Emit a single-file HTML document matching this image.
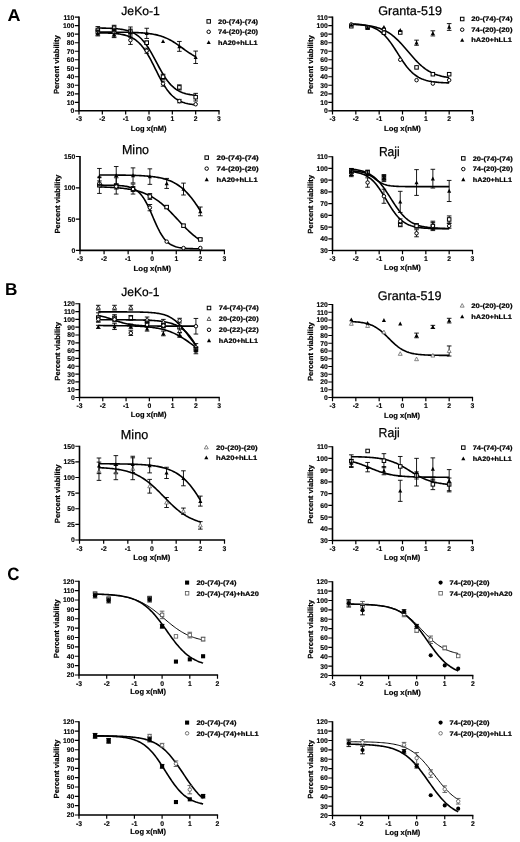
<!DOCTYPE html>
<html><head><meta charset="utf-8"><style>
html,body{margin:0;padding:0;background:#fff;}
svg{display:block;filter:blur(0.3px);}
text{font-family:"Liberation Sans", sans-serif;fill:#000;text-rendering:geometricPrecision;}
.tk{font-size:6.8px;font-weight:bold;stroke:#000;stroke-width:0.12px;}
.lab{font-size:7.4px;font-weight:bold;stroke:#000;stroke-width:0.2px;}
.ttl{font-size:12.3px;stroke:#000;stroke-width:0.25px;}
.leg{font-size:6.5px;font-weight:bold;stroke:#000;stroke-width:0.22px;}
.pl{font-size:17.2px;font-weight:bold;}
</style></head><body>
<svg width="520" height="842" viewBox="0 0 520 842">
<rect width="520" height="842" fill="#fff"/>
<text x="7.4" y="20.7" class="pl" textLength="13.0" lengthAdjust="spacingAndGlyphs">A</text><text x="4.9" y="294.5" class="pl">B</text><text x="7.2" y="579.6" class="pl" style="font-size:17.8px" textLength="12.2" lengthAdjust="spacingAndGlyphs">C</text>
<g id="A1"><path d="M79,16.599999999999998V110.8H219.6" fill="none" stroke="#000" stroke-width="1.6"/><text x="74.40" y="113.25" text-anchor="end" class="tk">0</text><text x="74.40" y="104.74" text-anchor="end" class="tk">10</text><text x="74.40" y="96.23" text-anchor="end" class="tk">20</text><text x="74.40" y="87.72" text-anchor="end" class="tk">30</text><text x="74.40" y="79.21" text-anchor="end" class="tk">40</text><text x="74.40" y="70.70" text-anchor="end" class="tk">50</text><text x="74.40" y="62.20" text-anchor="end" class="tk">60</text><text x="74.40" y="53.69" text-anchor="end" class="tk">70</text><text x="74.40" y="45.18" text-anchor="end" class="tk">80</text><text x="74.40" y="36.67" text-anchor="end" class="tk">90</text><text x="74.40" y="28.16" text-anchor="end" class="tk">100</text><text x="74.40" y="19.65" text-anchor="end" class="tk">110</text><text x="79.00" y="121.30" text-anchor="middle" class="tk">-3</text><text x="102.33" y="121.30" text-anchor="middle" class="tk">-2</text><text x="125.67" y="121.30" text-anchor="middle" class="tk">-1</text><text x="149.00" y="121.30" text-anchor="middle" class="tk">0</text><text x="172.33" y="121.30" text-anchor="middle" class="tk">1</text><text x="195.67" y="121.30" text-anchor="middle" class="tk">2</text><text x="219.00" y="121.30" text-anchor="middle" class="tk">3</text><path d="M74.8,110.80H79M74.8,102.29H79M74.8,93.78H79M74.8,85.27H79M74.8,76.76H79M74.8,68.25H79M74.8,59.75H79M74.8,51.24H79M74.8,42.73H79M74.8,34.22H79M74.8,25.71H79M74.8,17.20H79M79.00,110.8V114.6M102.33,110.8V114.6M125.67,110.8V114.6M149.00,110.8V114.6M172.33,110.8V114.6M195.67,110.8V114.6M219.00,110.8V114.6" stroke="#000" stroke-width="1.2" fill="none"/><text x="130.85" y="130.60" textLength="35.70" lengthAdjust="spacingAndGlyphs" class="lab">Log x(nM)</text><text transform="translate(59.00,94.10) rotate(-90)" x="0" y="0" textLength="58.8" lengthAdjust="spacingAndGlyphs" class="lab">Percent viability</text><text x="121.30" y="14.60" textLength="38.50" lengthAdjust="spacingAndGlyphs" class="ttl" style="font-size:12.0px">JeKo-1</text><rect x="206.95" y="19.65" width="3.50" height="3.50" fill="#fff" stroke="#000" stroke-width="1.0"/><text x="218.00" y="23.60" textLength="40.10" lengthAdjust="spacingAndGlyphs" class="leg">20-(74)-(74)</text><circle cx="208.70" cy="31.80" r="1.75" fill="#fff" stroke="#000" stroke-width="1.0"/><text x="218.00" y="34.00" textLength="40.10" lengthAdjust="spacingAndGlyphs" class="leg">74-(20)-(20)</text><path d="M208.70,40.15L210.75,44.05L206.65,44.05Z" fill="#000"/><text x="218.00" y="44.50" textLength="39.70" lengthAdjust="spacingAndGlyphs" class="leg">hA20+hLL1</text><polyline points="97.81,28.03 98.89,28.04 99.98,28.05 101.07,28.07 102.16,28.09 103.24,28.11 104.33,28.14 105.42,28.16 106.51,28.19 107.59,28.23 108.68,28.27 109.77,28.31 110.85,28.36 111.94,28.42 113.03,28.48 114.12,28.55 115.20,28.63 116.29,28.72 117.38,28.82 118.47,28.93 119.55,29.06 120.64,29.20 121.73,29.37 122.82,29.55 123.90,29.75 124.99,29.98 126.08,30.23 127.16,30.51 128.25,30.83 129.34,31.19 130.43,31.58 131.51,32.02 132.60,32.51 133.69,33.06 134.78,33.66 135.86,34.32 136.95,35.06 138.04,35.87 139.13,36.75 140.21,37.72 141.30,38.78 142.39,39.92 143.47,41.16 144.56,42.49 145.65,43.92 146.74,45.44 147.82,47.06 148.91,48.76 150.00,50.55 151.09,52.40 152.17,54.33 153.26,56.30 154.35,58.32 155.44,60.36 156.52,62.41 157.61,64.47 158.70,66.50 159.78,68.50 160.87,70.46 161.96,72.36 163.05,74.19 164.13,75.95 165.22,77.62 166.31,79.20 167.40,80.69 168.48,82.08 169.57,83.38 170.66,84.59 171.75,85.70 172.83,86.72 173.92,87.66 175.01,88.52 176.09,89.30 177.18,90.01 178.27,90.65 179.36,91.23 180.44,91.76 181.53,92.23 182.62,92.65 183.71,93.03 184.79,93.37 185.88,93.68 186.97,93.95 188.06,94.20 189.14,94.41 190.23,94.61 191.32,94.78 192.40,94.93 193.49,95.07 194.58,95.19 195.67,95.30" fill="none" stroke="#000" stroke-width="1.6"/><polyline points="97.81,32.81 98.89,32.83 99.98,32.85 101.07,32.87 102.16,32.89 103.24,32.92 104.33,32.95 105.42,32.98 106.51,33.02 107.59,33.06 108.68,33.11 109.77,33.16 110.85,33.22 111.94,33.29 113.03,33.36 114.12,33.45 115.20,33.54 116.29,33.65 117.38,33.77 118.47,33.91 119.55,34.06 120.64,34.23 121.73,34.42 122.82,34.63 123.90,34.87 124.99,35.14 126.08,35.44 127.16,35.78 128.25,36.15 129.34,36.57 130.43,37.03 131.51,37.55 132.60,38.12 133.69,38.75 134.78,39.45 135.86,40.22 136.95,41.07 138.04,42.00 139.13,43.02 140.21,44.13 141.30,45.33 142.39,46.63 143.47,48.03 144.56,49.53 145.65,51.13 146.74,52.82 147.82,54.61 148.91,56.49 150.00,58.45 151.09,60.48 152.17,62.56 153.26,64.70 154.35,66.86 155.44,69.04 156.52,71.22 157.61,73.39 158.70,75.53 159.78,77.62 160.87,79.66 161.96,81.63 163.05,83.51 164.13,85.32 165.22,87.03 166.31,88.64 167.40,90.15 168.48,91.57 169.57,92.88 170.66,94.10 171.75,95.22 172.83,96.25 173.92,97.19 175.01,98.05 176.09,98.83 177.18,99.54 178.27,100.18 179.36,100.76 180.44,101.28 181.53,101.75 182.62,102.17 183.71,102.55 184.79,102.90 185.88,103.20 186.97,103.47 188.06,103.72 189.14,103.93 190.23,104.13 191.32,104.30 192.40,104.46 193.49,104.59 194.58,104.72 195.67,104.83" fill="none" stroke="#000" stroke-width="1.6"/><polyline points="97.81,32.11 98.89,32.11 99.98,32.11 101.07,32.11 102.16,32.11 103.24,32.12 104.33,32.12 105.42,32.12 106.51,32.12 107.59,32.13 108.68,32.13 109.77,32.13 110.85,32.14 111.94,32.14 113.03,32.15 114.12,32.16 115.20,32.16 116.29,32.17 117.38,32.18 118.47,32.19 119.55,32.20 120.64,32.21 121.73,32.22 122.82,32.23 123.90,32.25 124.99,32.26 126.08,32.28 127.16,32.30 128.25,32.32 129.34,32.35 130.43,32.37 131.51,32.40 132.60,32.44 133.69,32.47 134.78,32.51 135.86,32.55 136.95,32.60 138.04,32.65 139.13,32.71 140.21,32.77 141.30,32.84 142.39,32.92 143.47,33.00 144.56,33.09 145.65,33.19 146.74,33.30 147.82,33.42 148.91,33.55 150.00,33.70 151.09,33.85 152.17,34.02 153.26,34.21 154.35,34.42 155.44,34.64 156.52,34.88 157.61,35.14 158.70,35.42 159.78,35.73 160.87,36.06 161.96,36.42 163.05,36.80 164.13,37.21 165.22,37.65 166.31,38.12 167.40,38.61 168.48,39.14 169.57,39.70 170.66,40.28 171.75,40.90 172.83,41.54 173.92,42.21 175.01,42.91 176.09,43.62 177.18,44.36 178.27,45.11 179.36,45.88 180.44,46.66 181.53,47.44 182.62,48.23 183.71,49.01 184.79,49.80 185.88,50.57 186.97,51.33 188.06,52.08 189.14,52.80 190.23,53.51 191.32,54.19 192.40,54.85 193.49,55.48 194.58,56.08 195.67,56.66" fill="none" stroke="#000" stroke-width="1.6"/><path d="M97.81,26.56V33.37M95.51,26.56H100.11M95.51,33.37H100.11M114.12,25.28V30.39M111.82,25.28H116.42M111.82,30.39H116.42M130.43,29.11V34.22M128.13,29.11H132.73M128.13,34.22H132.73M146.74,41.03V44.43M144.44,41.03H149.04M144.44,44.43H149.04M163.05,74.21V79.32M160.75,74.21H165.35M160.75,79.32H165.35M179.36,84.85V89.95M177.06,84.85H181.66M177.06,89.95H181.66M195.67,93.36V101.01M193.37,93.36H197.97M193.37,101.01H197.97" stroke="#000" stroke-width="0.9" fill="none"/><rect x="96.06" y="28.21" width="3.50" height="3.50" fill="#fff" stroke="#000" stroke-width="1.0"/><rect x="112.37" y="26.09" width="3.50" height="3.50" fill="#fff" stroke="#000" stroke-width="1.0"/><rect x="128.68" y="29.92" width="3.50" height="3.50" fill="#fff" stroke="#000" stroke-width="1.0"/><rect x="144.99" y="40.98" width="3.50" height="3.50" fill="#fff" stroke="#000" stroke-width="1.0"/><rect x="161.30" y="75.01" width="3.50" height="3.50" fill="#fff" stroke="#000" stroke-width="1.0"/><rect x="177.61" y="85.65" width="3.50" height="3.50" fill="#fff" stroke="#000" stroke-width="1.0"/><rect x="193.92" y="95.44" width="3.50" height="3.50" fill="#fff" stroke="#000" stroke-width="1.0"/><path d="M97.81,29.96V35.07M95.51,29.96H100.11M95.51,35.07H100.11M114.12,28.26V36.77M111.82,28.26H116.42M111.82,36.77H116.42M130.43,35.92V44.43M128.13,35.92H132.73M128.13,44.43H132.73M146.74,48.17V53.28M144.44,48.17H149.04M144.44,53.28H149.04M163.05,81.10V86.21M160.75,81.10H165.35M160.75,86.21H165.35M179.36,99.40V102.80M177.06,99.40H181.66M177.06,102.80H181.66" stroke="#000" stroke-width="0.9" fill="none"/><circle cx="97.81" cy="32.52" r="1.75" fill="#fff" stroke="#000" stroke-width="1.0"/><circle cx="114.12" cy="32.52" r="1.75" fill="#fff" stroke="#000" stroke-width="1.0"/><circle cx="130.43" cy="40.17" r="1.75" fill="#fff" stroke="#000" stroke-width="1.0"/><circle cx="146.74" cy="50.73" r="1.75" fill="#fff" stroke="#000" stroke-width="1.0"/><circle cx="163.05" cy="83.66" r="1.75" fill="#fff" stroke="#000" stroke-width="1.0"/><circle cx="179.36" cy="101.10" r="1.75" fill="#fff" stroke="#000" stroke-width="1.0"/><circle cx="195.67" cy="104.25" r="1.75" fill="#fff" stroke="#000" stroke-width="1.0"/><path d="M97.81,30.81V35.92M95.51,30.81H100.11M95.51,35.92H100.11M114.12,30.81V37.62M111.82,30.81H116.42M111.82,37.62H116.42M130.43,26.99V37.20M128.13,26.99H132.73M128.13,37.20H132.73M146.74,28.26V38.47M144.44,28.26H149.04M144.44,38.47H149.04M179.36,41.45V51.32M177.06,41.45H181.66M177.06,51.32H181.66M195.67,51.07V63.49M193.37,51.07H197.97M193.37,63.49H197.97" stroke="#000" stroke-width="0.9" fill="none"/><path d="M97.81,31.22L99.86,35.12L95.76,35.12Z" fill="#000"/><path d="M114.12,32.07L116.17,35.97L112.07,35.97Z" fill="#000"/><path d="M130.43,29.94L132.48,33.84L128.38,33.84Z" fill="#000"/><path d="M146.74,31.22L148.79,35.12L144.69,35.12Z" fill="#000"/><path d="M163.05,39.22L165.10,43.12L161.00,43.12Z" fill="#000"/><path d="M179.36,44.24L181.41,48.14L177.31,48.14Z" fill="#000"/><path d="M195.67,55.13L197.72,59.03L193.62,59.03Z" fill="#000"/></g><g id="A2"><path d="M332.5,16.599999999999998V110.8H473.1" fill="none" stroke="#000" stroke-width="1.6"/><text x="327.90" y="113.25" text-anchor="end" class="tk">0</text><text x="327.90" y="104.74" text-anchor="end" class="tk">10</text><text x="327.90" y="96.23" text-anchor="end" class="tk">20</text><text x="327.90" y="87.72" text-anchor="end" class="tk">30</text><text x="327.90" y="79.21" text-anchor="end" class="tk">40</text><text x="327.90" y="70.70" text-anchor="end" class="tk">50</text><text x="327.90" y="62.20" text-anchor="end" class="tk">60</text><text x="327.90" y="53.69" text-anchor="end" class="tk">70</text><text x="327.90" y="45.18" text-anchor="end" class="tk">80</text><text x="327.90" y="36.67" text-anchor="end" class="tk">90</text><text x="327.90" y="28.16" text-anchor="end" class="tk">100</text><text x="327.90" y="19.65" text-anchor="end" class="tk">110</text><text x="332.50" y="121.30" text-anchor="middle" class="tk">-3</text><text x="355.83" y="121.30" text-anchor="middle" class="tk">-2</text><text x="379.17" y="121.30" text-anchor="middle" class="tk">-1</text><text x="402.50" y="121.30" text-anchor="middle" class="tk">0</text><text x="425.83" y="121.30" text-anchor="middle" class="tk">1</text><text x="449.17" y="121.30" text-anchor="middle" class="tk">2</text><text x="472.50" y="121.30" text-anchor="middle" class="tk">3</text><path d="M328.3,110.80H332.5M328.3,102.29H332.5M328.3,93.78H332.5M328.3,85.27H332.5M328.3,76.76H332.5M328.3,68.25H332.5M328.3,59.75H332.5M328.3,51.24H332.5M328.3,42.73H332.5M328.3,34.22H332.5M328.3,25.71H332.5M328.3,17.20H332.5M332.50,110.8V114.6M355.83,110.8V114.6M379.17,110.8V114.6M402.50,110.8V114.6M425.83,110.8V114.6M449.17,110.8V114.6M472.50,110.8V114.6" stroke="#000" stroke-width="1.2" fill="none"/><text x="384.10" y="130.60" textLength="36.80" lengthAdjust="spacingAndGlyphs" class="lab">Log x(nM)</text><text transform="translate(312.50,94.10) rotate(-90)" x="0" y="0" textLength="58.8" lengthAdjust="spacingAndGlyphs" class="lab">Percent viability</text><text x="378.30" y="15.00" textLength="63.60" lengthAdjust="spacingAndGlyphs" class="ttl" style="font-size:12.6px">Granta-519</text><rect x="460.45" y="17.25" width="3.50" height="3.50" fill="#fff" stroke="#000" stroke-width="1.0"/><text x="471.30" y="21.20" textLength="41.20" lengthAdjust="spacingAndGlyphs" class="leg">20-(74)-(74)</text><circle cx="462.20" cy="29.70" r="1.75" fill="#fff" stroke="#000" stroke-width="1.0"/><text x="471.30" y="31.90" textLength="41.20" lengthAdjust="spacingAndGlyphs" class="leg">74-(20)-(20)</text><path d="M462.20,37.95L464.25,41.85L460.15,41.85Z" fill="#000"/><text x="471.30" y="42.30" textLength="40.60" lengthAdjust="spacingAndGlyphs" class="leg">hA20+hLL1</text><polyline points="351.31,24.36 352.39,24.40 353.48,24.44 354.57,24.49 355.66,24.55 356.74,24.60 357.83,24.67 358.92,24.74 360.01,24.82 361.09,24.90 362.18,25.00 363.27,25.10 364.35,25.21 365.44,25.33 366.53,25.46 367.62,25.61 368.70,25.77 369.79,25.94 370.88,26.13 371.97,26.33 373.05,26.55 374.14,26.80 375.23,27.06 376.32,27.35 377.40,27.66 378.49,27.99 379.58,28.36 380.66,28.75 381.75,29.18 382.84,29.63 383.93,30.13 385.01,30.66 386.10,31.23 387.19,31.84 388.28,32.49 389.36,33.18 390.45,33.92 391.54,34.70 392.63,35.53 393.71,36.41 394.80,37.33 395.89,38.30 396.97,39.31 398.06,40.36 399.15,41.46 400.24,42.59 401.32,43.75 402.41,44.95 403.50,46.17 404.59,47.42 405.67,48.68 406.76,49.96 407.85,51.24 408.94,52.52 410.02,53.80 411.11,55.07 412.20,56.33 413.28,57.56 414.37,58.77 415.46,59.95 416.55,61.10 417.63,62.21 418.72,63.29 419.81,64.32 420.90,65.30 421.98,66.25 423.07,67.14 424.16,67.99 425.25,68.80 426.33,69.56 427.42,70.27 428.51,70.94 429.59,71.57 430.68,72.16 431.77,72.71 432.86,73.22 433.94,73.69 435.03,74.13 436.12,74.54 437.21,74.92 438.29,75.27 439.38,75.59 440.47,75.89 441.56,76.16 442.64,76.41 443.73,76.65 444.82,76.86 445.90,77.05 446.99,77.23 448.08,77.40 449.17,77.55" fill="none" stroke="#000" stroke-width="1.6"/><polyline points="351.31,23.88 352.39,23.93 353.48,23.99 354.57,24.06 355.66,24.13 356.74,24.21 357.83,24.31 358.92,24.41 360.01,24.53 361.09,24.65 362.18,24.80 363.27,24.96 364.35,25.14 365.44,25.34 366.53,25.56 367.62,25.81 368.70,26.09 369.79,26.39 370.88,26.74 371.97,27.11 373.05,27.53 374.14,27.99 375.23,28.50 376.32,29.06 377.40,29.67 378.49,30.34 379.58,31.08 380.66,31.88 381.75,32.75 382.84,33.69 383.93,34.71 385.01,35.80 386.10,36.96 387.19,38.21 388.28,39.52 389.36,40.91 390.45,42.37 391.54,43.89 392.63,45.47 393.71,47.09 394.80,48.75 395.89,50.45 396.97,52.16 398.06,53.88 399.15,55.59 400.24,57.29 401.32,58.97 402.41,60.61 403.50,62.20 404.59,63.74 405.67,65.22 406.76,66.63 407.85,67.97 408.94,69.24 410.02,70.43 411.11,71.54 412.20,72.58 413.28,73.55 414.37,74.44 415.46,75.26 416.55,76.02 417.63,76.71 418.72,77.34 419.81,77.92 420.90,78.44 421.98,78.92 423.07,79.35 424.16,79.74 425.25,80.09 426.33,80.41 427.42,80.69 428.51,80.95 429.59,81.18 430.68,81.39 431.77,81.58 432.86,81.74 433.94,81.89 435.03,82.03 436.12,82.15 437.21,82.25 438.29,82.35 439.38,82.43 440.47,82.51 441.56,82.58 442.64,82.64 443.73,82.69 444.82,82.74 445.90,82.79 446.99,82.83 448.08,82.86 449.17,82.89" fill="none" stroke="#000" stroke-width="1.6"/><rect x="349.56" y="24.47" width="3.50" height="3.50" fill="#fff" stroke="#000" stroke-width="1.0"/><rect x="365.87" y="25.92" width="3.50" height="3.50" fill="#fff" stroke="#000" stroke-width="1.0"/><rect x="382.18" y="30.94" width="3.50" height="3.50" fill="#fff" stroke="#000" stroke-width="1.0"/><rect x="398.49" y="30.77" width="3.50" height="3.50" fill="#fff" stroke="#000" stroke-width="1.0"/><rect x="414.80" y="65.65" width="3.50" height="3.50" fill="#fff" stroke="#000" stroke-width="1.0"/><rect x="431.11" y="72.46" width="3.50" height="3.50" fill="#fff" stroke="#000" stroke-width="1.0"/><rect x="447.42" y="72.46" width="3.50" height="3.50" fill="#fff" stroke="#000" stroke-width="1.0"/><circle cx="351.31" cy="24.43" r="1.75" fill="#fff" stroke="#000" stroke-width="1.0"/><circle cx="367.62" cy="27.41" r="1.75" fill="#fff" stroke="#000" stroke-width="1.0"/><circle cx="383.93" cy="29.11" r="1.75" fill="#fff" stroke="#000" stroke-width="1.0"/><circle cx="400.24" cy="59.75" r="1.75" fill="#fff" stroke="#000" stroke-width="1.0"/><circle cx="416.55" cy="80.17" r="1.75" fill="#fff" stroke="#000" stroke-width="1.0"/><circle cx="432.86" cy="83.57" r="1.75" fill="#fff" stroke="#000" stroke-width="1.0"/><circle cx="449.17" cy="80.17" r="1.75" fill="#fff" stroke="#000" stroke-width="1.0"/><path d="M416.55,40.17V45.28M414.25,40.17H418.85M414.25,45.28H418.85M432.86,30.81V35.92M430.56,30.81H435.16M430.56,35.92H435.16M449.17,23.58V30.39M446.87,23.58H451.47M446.87,30.39H451.47" stroke="#000" stroke-width="0.9" fill="none"/><path d="M351.31,22.71L353.36,26.61L349.26,26.61Z" fill="#000"/><path d="M367.62,25.26L369.67,29.16L365.57,29.16Z" fill="#000"/><path d="M383.93,24.92L385.98,28.82L381.88,28.82Z" fill="#000"/><path d="M400.24,28.07L402.29,31.97L398.19,31.97Z" fill="#000"/><path d="M416.55,40.58L418.60,44.48L414.50,44.48Z" fill="#000"/><path d="M432.86,31.22L434.91,35.12L430.81,35.12Z" fill="#000"/><path d="M449.17,24.84L451.22,28.74L447.12,28.74Z" fill="#000"/></g><g id="A3"><path d="M80,155.9V250.4H225.0" fill="none" stroke="#000" stroke-width="1.6"/><text x="75.40" y="252.85" text-anchor="end" class="tk">0</text><text x="75.40" y="221.55" text-anchor="end" class="tk">50</text><text x="75.40" y="190.25" text-anchor="end" class="tk">100</text><text x="75.40" y="158.95" text-anchor="end" class="tk">150</text><text x="80.00" y="260.90" text-anchor="middle" class="tk">-3</text><text x="104.07" y="260.90" text-anchor="middle" class="tk">-2</text><text x="128.13" y="260.90" text-anchor="middle" class="tk">-1</text><text x="152.20" y="260.90" text-anchor="middle" class="tk">0</text><text x="176.27" y="260.90" text-anchor="middle" class="tk">1</text><text x="200.33" y="260.90" text-anchor="middle" class="tk">2</text><text x="224.40" y="260.90" text-anchor="middle" class="tk">3</text><path d="M75.8,250.40H80M75.8,219.10H80M75.8,187.80H80M75.8,156.50H80M80.00,250.4V254.20000000000002M104.07,250.4V254.20000000000002M128.13,250.4V254.20000000000002M152.20,250.4V254.20000000000002M176.27,250.4V254.20000000000002M200.33,250.4V254.20000000000002M224.40,250.4V254.20000000000002" stroke="#000" stroke-width="1.2" fill="none"/><text x="133.55" y="270.50" textLength="37.50" lengthAdjust="spacingAndGlyphs" class="lab">Log x(nM)</text><text transform="translate(60.00,233.55) rotate(-90)" x="0" y="0" textLength="58.8" lengthAdjust="spacingAndGlyphs" class="lab">Percent viability</text><text x="121.95" y="154.40" textLength="27.10" lengthAdjust="spacingAndGlyphs" class="ttl" style="font-size:13.0px">Mino</text><rect x="204.95" y="155.85" width="3.50" height="3.50" fill="#fff" stroke="#000" stroke-width="1.0"/><text x="216.50" y="159.80" textLength="42.20" lengthAdjust="spacingAndGlyphs" class="leg">20-(74)-(74)</text><circle cx="206.70" cy="168.60" r="1.75" fill="#fff" stroke="#000" stroke-width="1.0"/><text x="216.50" y="170.80" textLength="42.20" lengthAdjust="spacingAndGlyphs" class="leg">74-(20)-(20)</text><path d="M206.70,177.35L208.75,181.25L204.65,181.25Z" fill="#000"/><text x="216.50" y="181.70" textLength="41.20" lengthAdjust="spacingAndGlyphs" class="leg">hA20+hLL1</text><polyline points="99.40,186.94 100.52,186.97 101.64,187.00 102.76,187.03 103.88,187.07 105.01,187.11 106.13,187.15 107.25,187.19 108.37,187.24 109.49,187.30 110.61,187.35 111.73,187.41 112.86,187.48 113.98,187.55 115.10,187.62 116.22,187.70 117.34,187.79 118.46,187.88 119.58,187.98 120.71,188.09 121.83,188.20 122.95,188.33 124.07,188.46 125.19,188.60 126.31,188.75 127.44,188.92 128.56,189.09 129.68,189.28 130.80,189.47 131.92,189.69 133.04,189.91 134.16,190.16 135.29,190.42 136.41,190.69 137.53,190.99 138.65,191.30 139.77,191.64 140.89,192.00 142.01,192.38 143.14,192.78 144.26,193.21 145.38,193.66 146.50,194.14 147.62,194.65 148.74,195.19 149.87,195.75 150.99,196.35 152.11,196.98 153.23,197.64 154.35,198.34 155.47,199.07 156.59,199.83 157.72,200.63 158.84,201.46 159.96,202.33 161.08,203.23 162.20,204.16 163.32,205.12 164.45,206.12 165.57,207.15 166.69,208.20 167.81,209.28 168.93,210.39 170.05,211.52 171.17,212.67 172.30,213.83 173.42,215.02 174.54,216.21 175.66,217.41 176.78,218.62 177.90,219.83 179.02,221.04 180.15,222.24 181.27,223.44 182.39,224.62 183.51,225.79 184.63,226.95 185.75,228.09 186.88,229.20 188.00,230.29 189.12,231.35 190.24,232.39 191.36,233.39 192.48,234.37 193.60,235.31 194.73,236.22 195.85,237.10 196.97,237.94 198.09,238.75 199.21,239.52 200.33,240.26" fill="none" stroke="#000" stroke-width="1.6"/><polyline points="99.40,185.15 100.52,185.16 101.64,185.16 102.76,185.17 103.88,185.18 105.01,185.18 106.13,185.19 107.25,185.21 108.37,185.22 109.49,185.24 110.61,185.26 111.73,185.28 112.86,185.31 113.98,185.34 115.10,185.38 116.22,185.42 117.34,185.47 118.46,185.54 119.58,185.61 120.71,185.69 121.83,185.79 122.95,185.91 124.07,186.05 125.19,186.21 126.31,186.40 127.44,186.62 128.56,186.88 129.68,187.18 130.80,187.54 131.92,187.95 133.04,188.43 134.16,188.98 135.29,189.62 136.41,190.35 137.53,191.19 138.65,192.16 139.77,193.25 140.89,194.49 142.01,195.87 143.14,197.42 144.26,199.13 145.38,201.00 146.50,203.04 147.62,205.23 148.74,207.55 149.87,209.99 150.99,212.52 152.11,215.10 153.23,217.71 154.35,220.32 155.47,222.88 156.59,225.36 157.72,227.74 158.84,229.99 159.96,232.09 161.08,234.04 162.20,235.82 163.32,237.44 164.45,238.90 165.57,240.20 166.69,241.36 167.81,242.38 168.93,243.28 170.05,244.06 171.17,244.74 172.30,245.33 173.42,245.84 174.54,246.28 175.66,246.66 176.78,246.98 177.90,247.26 179.02,247.50 180.15,247.70 181.27,247.87 182.39,248.02 183.51,248.15 184.63,248.26 185.75,248.35 186.88,248.43 188.00,248.49 189.12,248.55 190.24,248.60 191.36,248.64 192.48,248.67 193.60,248.70 194.73,248.73 195.85,248.75 196.97,248.77 198.09,248.78 199.21,248.79 200.33,248.80" fill="none" stroke="#000" stroke-width="1.6"/><polyline points="99.40,174.98 100.52,174.98 101.64,174.99 102.76,174.99 103.88,174.99 105.01,175.00 106.13,175.00 107.25,175.01 108.37,175.01 109.49,175.02 110.61,175.02 111.73,175.03 112.86,175.04 113.98,175.04 115.10,175.05 116.22,175.06 117.34,175.07 118.46,175.08 119.58,175.09 120.71,175.11 121.83,175.12 122.95,175.14 124.07,175.15 125.19,175.17 126.31,175.19 127.44,175.21 128.56,175.23 129.68,175.26 130.80,175.28 131.92,175.31 133.04,175.35 134.16,175.38 135.29,175.42 136.41,175.46 137.53,175.50 138.65,175.55 139.77,175.60 140.89,175.66 142.01,175.72 143.14,175.79 144.26,175.86 145.38,175.94 146.50,176.02 147.62,176.12 148.74,176.22 149.87,176.33 150.99,176.44 152.11,176.57 153.23,176.71 154.35,176.86 155.47,177.03 156.59,177.20 157.72,177.39 158.84,177.60 159.96,177.82 161.08,178.07 162.20,178.33 163.32,178.61 164.45,178.92 165.57,179.25 166.69,179.60 167.81,179.98 168.93,180.40 170.05,180.84 171.17,181.32 172.30,181.83 173.42,182.38 174.54,182.97 175.66,183.60 176.78,184.27 177.90,184.99 179.02,185.76 180.15,186.58 181.27,187.45 182.39,188.38 183.51,189.35 184.63,190.39 185.75,191.48 186.88,192.64 188.00,193.85 189.12,195.12 190.24,196.45 191.36,197.83 192.48,199.27 193.60,200.77 194.73,202.32 195.85,203.92 196.97,205.57 198.09,207.25 199.21,208.98 200.33,210.74" fill="none" stroke="#000" stroke-width="1.6"/><path d="M99.40,177.16V193.43M97.10,177.16H101.70M97.10,193.43H101.70M116.22,177.78V194.06M113.92,177.78H118.52M113.92,194.06H118.52M133.04,184.04V194.06M130.74,184.04H135.34M130.74,194.06H135.34M149.87,193.56V199.44M147.57,193.56H152.17M147.57,199.44H152.17M166.69,205.83V208.33M164.39,205.83H168.99M164.39,208.33H168.99M183.51,224.42V226.93M181.21,224.42H185.81M181.21,226.93H185.81M200.33,238.19V240.70M198.03,238.19H202.63M198.03,240.70H202.63" stroke="#000" stroke-width="0.9" fill="none"/><rect x="97.65" y="183.55" width="3.50" height="3.50" fill="#fff" stroke="#000" stroke-width="1.0"/><rect x="114.47" y="184.17" width="3.50" height="3.50" fill="#fff" stroke="#000" stroke-width="1.0"/><rect x="131.29" y="187.30" width="3.50" height="3.50" fill="#fff" stroke="#000" stroke-width="1.0"/><rect x="148.12" y="194.75" width="3.50" height="3.50" fill="#fff" stroke="#000" stroke-width="1.0"/><rect x="164.94" y="205.33" width="3.50" height="3.50" fill="#fff" stroke="#000" stroke-width="1.0"/><rect x="181.76" y="223.92" width="3.50" height="3.50" fill="#fff" stroke="#000" stroke-width="1.0"/><rect x="198.58" y="237.69" width="3.50" height="3.50" fill="#fff" stroke="#000" stroke-width="1.0"/><path d="M99.40,180.91V185.92M97.10,180.91H101.70M97.10,185.92H101.70M116.22,184.04V189.05M113.92,184.04H118.52M113.92,189.05H118.52M133.04,186.55V191.56M130.74,186.55H135.34M130.74,191.56H135.34M149.87,204.51V210.77M147.57,204.51H152.17M147.57,210.77H152.17" stroke="#000" stroke-width="0.9" fill="none"/><circle cx="99.40" cy="183.42" r="1.75" fill="#fff" stroke="#000" stroke-width="1.0"/><circle cx="116.22" cy="186.55" r="1.75" fill="#fff" stroke="#000" stroke-width="1.0"/><circle cx="133.04" cy="189.05" r="1.75" fill="#fff" stroke="#000" stroke-width="1.0"/><circle cx="149.87" cy="207.64" r="1.75" fill="#fff" stroke="#000" stroke-width="1.0"/><circle cx="166.69" cy="241.64" r="1.75" fill="#fff" stroke="#000" stroke-width="1.0"/><circle cx="183.51" cy="248.02" r="1.75" fill="#fff" stroke="#000" stroke-width="1.0"/><circle cx="200.33" cy="248.02" r="1.75" fill="#fff" stroke="#000" stroke-width="1.0"/><path d="M99.40,168.46V184.73M97.10,168.46H101.70M97.10,184.73H101.70M116.22,166.52V184.04M113.92,166.52H118.52M113.92,184.04H118.52M133.04,167.89V182.92M130.74,167.89H135.34M130.74,182.92H135.34M149.87,168.83V184.36M147.57,168.83H152.17M147.57,184.36H152.17M166.69,178.41V188.43M164.39,178.41H168.99M164.39,188.43H168.99M183.51,183.11V195.00M181.21,183.11H185.81M181.21,195.00H185.81M200.33,207.02V215.78M198.03,207.02H202.63M198.03,215.78H202.63" stroke="#000" stroke-width="0.9" fill="none"/><path d="M99.40,174.44L101.45,178.34L97.35,178.34Z" fill="#000"/><path d="M116.22,173.13L118.27,177.03L114.17,177.03Z" fill="#000"/><path d="M133.04,173.26L135.09,177.16L130.99,177.16Z" fill="#000"/><path d="M149.87,174.44L151.92,178.34L147.82,178.34Z" fill="#000"/><path d="M166.69,181.27L168.74,185.17L164.64,185.17Z" fill="#000"/><path d="M183.51,186.90L185.56,190.80L181.46,190.80Z" fill="#000"/><path d="M200.33,209.25L202.38,213.15L198.28,213.15Z" fill="#000"/></g><g id="A4"><path d="M332.5,156.15V250.5H473.1" fill="none" stroke="#000" stroke-width="1.6"/><text x="327.90" y="252.95" text-anchor="end" class="tk">30</text><text x="327.90" y="241.23" text-anchor="end" class="tk">40</text><text x="327.90" y="229.51" text-anchor="end" class="tk">50</text><text x="327.90" y="217.79" text-anchor="end" class="tk">60</text><text x="327.90" y="206.07" text-anchor="end" class="tk">70</text><text x="327.90" y="194.36" text-anchor="end" class="tk">80</text><text x="327.90" y="182.64" text-anchor="end" class="tk">90</text><text x="327.90" y="170.92" text-anchor="end" class="tk">100</text><text x="327.90" y="159.20" text-anchor="end" class="tk">110</text><text x="332.50" y="261.00" text-anchor="middle" class="tk">-3</text><text x="355.83" y="261.00" text-anchor="middle" class="tk">-2</text><text x="379.17" y="261.00" text-anchor="middle" class="tk">-1</text><text x="402.50" y="261.00" text-anchor="middle" class="tk">0</text><text x="425.83" y="261.00" text-anchor="middle" class="tk">1</text><text x="449.17" y="261.00" text-anchor="middle" class="tk">2</text><text x="472.50" y="261.00" text-anchor="middle" class="tk">3</text><path d="M328.3,250.50H332.5M328.3,238.78H332.5M328.3,227.06H332.5M328.3,215.34H332.5M328.3,203.62H332.5M328.3,191.91H332.5M328.3,180.19H332.5M328.3,168.47H332.5M328.3,156.75H332.5M332.50,250.5V254.3M355.83,250.5V254.3M379.17,250.5V254.3M402.50,250.5V254.3M425.83,250.5V254.3M449.17,250.5V254.3M472.50,250.5V254.3" stroke="#000" stroke-width="1.2" fill="none"/><text x="384.10" y="269.90" textLength="36.80" lengthAdjust="spacingAndGlyphs" class="lab">Log x(nM)</text><text transform="translate(312.50,233.72) rotate(-90)" x="0" y="0" textLength="58.8" lengthAdjust="spacingAndGlyphs" class="lab">Percent viability</text><text x="378.90" y="156.20" textLength="20.80" lengthAdjust="spacingAndGlyphs" class="ttl" style="font-size:13.0px">Raji</text><rect x="461.55" y="156.65" width="3.50" height="3.50" fill="#fff" stroke="#000" stroke-width="1.0"/><text x="472.70" y="160.60" textLength="40.00" lengthAdjust="spacingAndGlyphs" class="leg">20-(74)-(74)</text><circle cx="463.30" cy="169.10" r="1.75" fill="#fff" stroke="#000" stroke-width="1.0"/><text x="472.70" y="171.30" textLength="40.00" lengthAdjust="spacingAndGlyphs" class="leg">74-(20)-(20)</text><path d="M463.30,177.35L465.35,181.25L461.25,181.25Z" fill="#000"/><text x="472.70" y="181.70" textLength="39.40" lengthAdjust="spacingAndGlyphs" class="leg">hA20+hLL1</text><polyline points="351.31,169.05 352.39,169.17 353.48,169.30 354.57,169.44 355.66,169.60 356.74,169.78 357.83,169.98 358.92,170.21 360.01,170.45 361.09,170.73 362.18,171.03 363.27,171.36 364.35,171.74 365.44,172.15 366.53,172.60 367.62,173.09 368.70,173.64 369.79,174.24 370.88,174.89 371.97,175.61 373.05,176.39 374.14,177.23 375.23,178.15 376.32,179.13 377.40,180.19 378.49,181.32 379.58,182.53 380.66,183.81 381.75,185.16 382.84,186.58 383.93,188.06 385.01,189.60 386.10,191.19 387.19,192.83 388.28,194.49 389.36,196.19 390.45,197.89 391.54,199.60 392.63,201.30 393.71,202.98 394.80,204.64 395.89,206.25 396.97,207.82 398.06,209.33 399.15,210.79 400.24,212.17 401.32,213.49 402.41,214.74 403.50,215.91 404.59,217.01 405.67,218.03 406.76,218.98 407.85,219.86 408.94,220.68 410.02,221.42 411.11,222.11 412.20,222.74 413.28,223.31 414.37,223.84 415.46,224.31 416.55,224.74 417.63,225.13 418.72,225.49 419.81,225.81 420.90,226.10 421.98,226.36 423.07,226.59 424.16,226.80 425.25,226.99 426.33,227.16 427.42,227.32 428.51,227.46 429.59,227.58 430.68,227.69 431.77,227.79 432.86,227.88 433.94,227.96 435.03,228.03 436.12,228.09 437.21,228.15 438.29,228.20 439.38,228.25 440.47,228.29 441.56,228.32 442.64,228.36 443.73,228.39 444.82,228.41 445.90,228.44 446.99,228.46 448.08,228.48 449.17,228.49" fill="none" stroke="#000" stroke-width="1.6"/><polyline points="351.31,171.59 352.39,171.72 353.48,171.87 354.57,172.03 355.66,172.22 356.74,172.43 357.83,172.67 358.92,172.93 360.01,173.23 361.09,173.57 362.18,173.95 363.27,174.37 364.35,174.84 365.44,175.36 366.53,175.95 367.62,176.59 368.70,177.31 369.79,178.09 370.88,178.96 371.97,179.91 373.05,180.94 374.14,182.05 375.23,183.26 376.32,184.56 377.40,185.94 378.49,187.41 379.58,188.96 380.66,190.59 381.75,192.28 382.84,194.02 383.93,195.81 385.01,197.63 386.10,199.46 387.19,201.30 388.28,203.13 389.36,204.92 390.45,206.68 391.54,208.38 392.63,210.03 393.71,211.59 394.80,213.09 395.89,214.49 396.97,215.81 398.06,217.04 399.15,218.18 400.24,219.23 401.32,220.20 402.41,221.08 403.50,221.89 404.59,222.62 405.67,223.28 406.76,223.88 407.85,224.42 408.94,224.90 410.02,225.34 411.11,225.73 412.20,226.07 413.28,226.38 414.37,226.66 415.46,226.90 416.55,227.12 417.63,227.31 418.72,227.48 419.81,227.63 420.90,227.77 421.98,227.89 423.07,227.99 424.16,228.09 425.25,228.17 426.33,228.24 427.42,228.30 428.51,228.36 429.59,228.41 430.68,228.46 431.77,228.49 432.86,228.53 433.94,228.56 435.03,228.59 436.12,228.61 437.21,228.63 438.29,228.65 439.38,228.66 440.47,228.68 441.56,228.69 442.64,228.70 443.73,228.71 444.82,228.72 445.90,228.73 446.99,228.74 448.08,228.74 449.17,228.75" fill="none" stroke="#000" stroke-width="1.6"/><polyline points="351.31,171.01 352.39,171.06 353.48,171.11 354.57,171.17 355.66,171.25 356.74,171.35 357.83,171.46 358.92,171.60 360.01,171.76 361.09,171.96 362.18,172.19 363.27,172.47 364.35,172.80 365.44,173.17 366.53,173.61 367.62,174.10 368.70,174.66 369.79,175.28 370.88,175.95 371.97,176.67 373.05,177.43 374.14,178.22 375.23,179.02 376.32,179.81 377.40,180.58 378.49,181.31 379.58,182.00 380.66,182.63 381.75,183.20 382.84,183.71 383.93,184.16 385.01,184.56 386.10,184.89 387.19,185.18 388.28,185.43 389.36,185.63 390.45,185.81 391.54,185.95 392.63,186.07 393.71,186.17 394.80,186.25 395.89,186.32 396.97,186.38 398.06,186.42 399.15,186.46 400.24,186.49 401.32,186.52 402.41,186.54 403.50,186.56 404.59,186.57 405.67,186.58 406.76,186.59 407.85,186.60 408.94,186.60 410.02,186.61 411.11,186.61 412.20,186.62 413.28,186.62 414.37,186.62 415.46,186.62 416.55,186.63 417.63,186.63 418.72,186.63 419.81,186.63 420.90,186.63 421.98,186.63 423.07,186.63 424.16,186.63 425.25,186.63 426.33,186.63 427.42,186.63 428.51,186.63 429.59,186.63 430.68,186.63 431.77,186.63 432.86,186.63 433.94,186.63 435.03,186.63 436.12,186.63 437.21,186.63 438.29,186.63 439.38,186.63 440.47,186.63 441.56,186.63 442.64,186.63 443.73,186.63 444.82,186.63 445.90,186.63 446.99,186.63 448.08,186.63 449.17,186.63" fill="none" stroke="#000" stroke-width="1.6"/><path d="M351.31,168.47V175.50M349.01,168.47H353.61M349.01,175.50H353.61M367.62,170.11V174.80M365.32,170.11H369.92M365.32,174.80H369.92M383.93,174.56V181.59M381.63,174.56H386.23M381.63,181.59H386.23M400.24,222.02V226.71M397.94,222.02H402.54M397.94,226.71H402.54M416.55,223.55V228.23M414.25,223.55H418.85M414.25,228.23H418.85M432.86,222.38V229.41M430.56,222.38H435.16M430.56,229.41H435.16M449.17,215.93V222.96M446.87,215.93H451.47M446.87,222.96H451.47" stroke="#000" stroke-width="0.9" fill="none"/><rect x="349.56" y="170.23" width="3.50" height="3.50" fill="#fff" stroke="#000" stroke-width="1.0"/><rect x="365.87" y="170.70" width="3.50" height="3.50" fill="#fff" stroke="#000" stroke-width="1.0"/><rect x="382.18" y="176.33" width="3.50" height="3.50" fill="#fff" stroke="#000" stroke-width="1.0"/><rect x="398.49" y="222.62" width="3.50" height="3.50" fill="#fff" stroke="#000" stroke-width="1.0"/><rect x="414.80" y="224.14" width="3.50" height="3.50" fill="#fff" stroke="#000" stroke-width="1.0"/><rect x="431.11" y="224.14" width="3.50" height="3.50" fill="#fff" stroke="#000" stroke-width="1.0"/><rect x="447.42" y="217.70" width="3.50" height="3.50" fill="#fff" stroke="#000" stroke-width="1.0"/><path d="M351.31,169.64V176.67M349.01,169.64H353.61M349.01,176.67H353.61M367.62,177.84V187.22M365.32,177.84H369.92M365.32,187.22H369.92M383.93,189.21V203.27M381.63,189.21H386.23M381.63,203.27H386.23M400.24,218.86V223.55M397.94,218.86H402.54M397.94,223.55H402.54M416.55,229.76V236.79M414.25,229.76H418.85M414.25,236.79H418.85M432.86,221.20V230.58M430.56,221.20H435.16M430.56,230.58H435.16M449.17,223.55V228.23M446.87,223.55H451.47M446.87,228.23H451.47" stroke="#000" stroke-width="0.9" fill="none"/><circle cx="351.31" cy="173.16" r="1.75" fill="#fff" stroke="#000" stroke-width="1.0"/><circle cx="367.62" cy="182.53" r="1.75" fill="#fff" stroke="#000" stroke-width="1.0"/><circle cx="383.93" cy="196.24" r="1.75" fill="#fff" stroke="#000" stroke-width="1.0"/><circle cx="400.24" cy="221.20" r="1.75" fill="#fff" stroke="#000" stroke-width="1.0"/><circle cx="416.55" cy="233.27" r="1.75" fill="#fff" stroke="#000" stroke-width="1.0"/><circle cx="432.86" cy="225.89" r="1.75" fill="#fff" stroke="#000" stroke-width="1.0"/><circle cx="449.17" cy="225.89" r="1.75" fill="#fff" stroke="#000" stroke-width="1.0"/><path d="M351.31,168.47V175.50M349.01,168.47H353.61M349.01,175.50H353.61M367.62,170.81V175.50M365.32,170.81H369.92M365.32,175.50H369.92M383.93,175.50V180.19M381.63,175.50H386.23M381.63,180.19H386.23M400.24,191.32V212.41M397.94,191.32H402.54M397.94,212.41H402.54M416.55,169.64V195.42M414.25,169.64H418.85M414.25,195.42H418.85M432.86,169.29V188.04M430.56,169.29H435.16M430.56,188.04H435.16M449.17,180.42V201.52M446.87,180.42H451.47M446.87,201.52H451.47" stroke="#000" stroke-width="0.9" fill="none"/><path d="M351.31,169.83L353.36,173.73L349.26,173.73Z" fill="#000"/><path d="M367.62,171.01L369.67,174.91L365.57,174.91Z" fill="#000"/><path d="M383.93,175.69L385.98,179.59L381.88,179.59Z" fill="#000"/><path d="M400.24,199.72L402.29,203.62L398.19,203.62Z" fill="#000"/><path d="M416.55,180.38L418.60,184.28L414.50,184.28Z" fill="#000"/><path d="M432.86,176.51L434.91,180.41L430.81,180.41Z" fill="#000"/><path d="M449.17,188.82L451.22,192.72L447.12,192.72Z" fill="#000"/></g><g id="B1"><path d="M79.5,303.15V397.5H219.79999999999998" fill="none" stroke="#000" stroke-width="1.6"/><text x="74.90" y="399.95" text-anchor="end" class="tk">0</text><text x="74.90" y="392.14" text-anchor="end" class="tk">10</text><text x="74.90" y="384.32" text-anchor="end" class="tk">20</text><text x="74.90" y="376.51" text-anchor="end" class="tk">30</text><text x="74.90" y="368.70" text-anchor="end" class="tk">40</text><text x="74.90" y="360.89" text-anchor="end" class="tk">50</text><text x="74.90" y="353.07" text-anchor="end" class="tk">60</text><text x="74.90" y="345.26" text-anchor="end" class="tk">70</text><text x="74.90" y="337.45" text-anchor="end" class="tk">80</text><text x="74.90" y="329.64" text-anchor="end" class="tk">90</text><text x="74.90" y="321.82" text-anchor="end" class="tk">100</text><text x="74.90" y="314.01" text-anchor="end" class="tk">110</text><text x="74.90" y="306.20" text-anchor="end" class="tk">120</text><text x="79.50" y="408.00" text-anchor="middle" class="tk">-3</text><text x="102.78" y="408.00" text-anchor="middle" class="tk">-2</text><text x="126.07" y="408.00" text-anchor="middle" class="tk">-1</text><text x="149.35" y="408.00" text-anchor="middle" class="tk">0</text><text x="172.63" y="408.00" text-anchor="middle" class="tk">1</text><text x="195.92" y="408.00" text-anchor="middle" class="tk">2</text><text x="219.20" y="408.00" text-anchor="middle" class="tk">3</text><path d="M75.3,397.50H79.5M75.3,389.69H79.5M75.3,381.88H79.5M75.3,374.06H79.5M75.3,366.25H79.5M75.3,358.44H79.5M75.3,350.62H79.5M75.3,342.81H79.5M75.3,335.00H79.5M75.3,327.19H79.5M75.3,319.38H79.5M75.3,311.56H79.5M75.3,303.75H79.5M79.50,397.5V401.3M102.78,397.5V401.3M126.07,397.5V401.3M149.35,397.5V401.3M172.63,397.5V401.3M195.92,397.5V401.3M219.20,397.5V401.3" stroke="#000" stroke-width="1.2" fill="none"/><text x="130.85" y="417.30" textLength="35.70" lengthAdjust="spacingAndGlyphs" class="lab">Log x(nM)</text><text transform="translate(59.50,380.73) rotate(-90)" x="0" y="0" textLength="58.8" lengthAdjust="spacingAndGlyphs" class="lab">Percent viability</text><text x="121.30" y="296.30" textLength="38.10" lengthAdjust="spacingAndGlyphs" class="ttl" style="font-size:12.0px">JeKo-1</text><rect x="207.25" y="306.25" width="3.50" height="3.50" fill="#fff" stroke="#000" stroke-width="1.0"/><text x="218.80" y="310.20" textLength="39.90" lengthAdjust="spacingAndGlyphs" class="leg">74-(74)-(74)</text><path d="M209.00,316.85L210.95,320.45L207.05,320.45Z" fill="#fff" stroke="#333" stroke-width="0.8"/><text x="218.80" y="321.10" textLength="39.90" lengthAdjust="spacingAndGlyphs" class="leg">20-(20)-(20)</text><circle cx="209.00" cy="329.80" r="1.75" fill="#fff" stroke="#000" stroke-width="1.0"/><text x="218.80" y="332.00" textLength="39.90" lengthAdjust="spacingAndGlyphs" class="leg">20-(22)-(22)</text><path d="M209.00,338.35L211.05,342.25L206.95,342.25Z" fill="#000"/><text x="218.80" y="342.70" textLength="39.10" lengthAdjust="spacingAndGlyphs" class="leg">hA20+hLL1</text><polyline points="98.27,319.76 99.35,319.76 100.44,319.76 101.52,319.76 102.61,319.76 103.69,319.76 104.78,319.76 105.86,319.76 106.95,319.76 108.03,319.77 109.12,319.77 110.20,319.77 111.29,319.77 112.37,319.77 113.46,319.78 114.54,319.78 115.63,319.78 116.71,319.78 117.80,319.79 118.88,319.79 119.97,319.79 121.05,319.80 122.14,319.80 123.22,319.81 124.31,319.81 125.39,319.82 126.48,319.83 127.56,319.84 128.65,319.84 129.73,319.85 130.82,319.86 131.90,319.87 132.99,319.89 134.07,319.90 135.16,319.91 136.24,319.93 137.33,319.95 138.41,319.97 139.50,319.99 140.58,320.01 141.67,320.04 142.75,320.07 143.84,320.10 144.92,320.13 146.01,320.17 147.09,320.21 148.18,320.25 149.26,320.30 150.35,320.36 151.43,320.42 152.52,320.48 153.60,320.55 154.69,320.63 155.77,320.72 156.86,320.81 157.94,320.92 159.03,321.03 160.11,321.16 161.20,321.29 162.28,321.44 163.37,321.61 164.45,321.79 165.54,321.99 166.62,322.20 167.71,322.44 168.79,322.70 169.88,322.98 170.96,323.29 172.05,323.63 173.13,324.00 174.22,324.41 175.30,324.85 176.39,325.34 177.47,325.86 178.56,326.44 179.64,327.07 180.73,327.75 181.81,328.49 182.90,329.30 183.98,330.17 185.07,331.12 186.15,332.15 187.24,333.26 188.32,334.46 189.41,335.76 190.49,337.16 191.58,338.66 192.66,340.28 193.75,342.01 194.83,343.85 195.92,345.83" fill="none" stroke="#000" stroke-width="1.6"/><polyline points="98.27,311.88 99.35,311.88 100.44,311.88 101.52,311.89 102.61,311.89 103.69,311.89 104.78,311.89 105.86,311.89 106.95,311.89 108.03,311.89 109.12,311.89 110.20,311.89 111.29,311.89 112.37,311.89 113.46,311.89 114.54,311.89 115.63,311.90 116.71,311.90 117.80,311.90 118.88,311.90 119.97,311.90 121.05,311.91 122.14,311.91 123.22,311.91 124.31,311.92 125.39,311.92 126.48,311.92 127.56,311.93 128.65,311.94 129.73,311.94 130.82,311.95 131.90,311.96 132.99,311.97 134.07,311.98 135.16,312.00 136.24,312.01 137.33,312.03 138.41,312.05 139.50,312.07 140.58,312.09 141.67,312.12 142.75,312.15 143.84,312.18 144.92,312.22 146.01,312.27 147.09,312.32 148.18,312.37 149.26,312.44 150.35,312.51 151.43,312.59 152.52,312.68 153.60,312.78 154.69,312.90 155.77,313.03 156.86,313.18 157.94,313.34 159.03,313.53 160.11,313.74 161.20,313.97 162.28,314.23 163.37,314.52 164.45,314.84 165.54,315.21 166.62,315.61 167.71,316.05 168.79,316.55 169.88,317.09 170.96,317.69 172.05,318.35 173.13,319.07 174.22,319.85 175.30,320.70 176.39,321.61 177.47,322.60 178.56,323.65 179.64,324.77 180.73,325.95 181.81,327.19 182.90,328.49 183.98,329.83 185.07,331.21 186.15,332.61 187.24,334.04 188.32,335.48 189.41,336.91 190.49,338.33 191.58,339.73 192.66,341.09 193.75,342.41 194.83,343.68 195.92,344.89" fill="none" stroke="#000" stroke-width="1.6"/><polyline points="98.27,315.64 99.35,315.83 100.44,316.04 101.52,316.27 102.61,316.51 103.69,316.77 104.78,317.05 105.86,317.34 106.95,317.65 108.03,317.98 109.12,318.32 110.20,318.67 111.29,319.04 112.37,319.41 113.46,319.78 114.54,320.16 115.63,320.53 116.71,320.90 117.80,321.27 118.88,321.62 119.97,321.97 121.05,322.30 122.14,322.62 123.22,322.92 124.31,323.20 125.39,323.47 126.48,323.72 127.56,323.95 128.65,324.16 129.73,324.36 130.82,324.54 131.90,324.71 132.99,324.86 134.07,324.99 135.16,325.12 136.24,325.23 137.33,325.33 138.41,325.42 139.50,325.50 140.58,325.57 141.67,325.64 142.75,325.70 143.84,325.75 144.92,325.80 146.01,325.84 147.09,325.87 148.18,325.91 149.26,325.94 150.35,325.96 151.43,325.99 152.52,326.01 153.60,326.02 154.69,326.04 155.77,326.05 156.86,326.07 157.94,326.08 159.03,326.09 160.11,326.10 161.20,326.10 162.28,326.11 163.37,326.12 164.45,326.12 165.54,326.13 166.62,326.13 167.71,326.14 168.79,326.14 169.88,326.14 170.96,326.14 172.05,326.15 173.13,326.15 174.22,326.15 175.30,326.15 176.39,326.15 177.47,326.15 178.56,326.16 179.64,326.16 180.73,326.16 181.81,326.16 182.90,326.16 183.98,326.16 185.07,326.16 186.15,326.16 187.24,326.16 188.32,326.16 189.41,326.16 190.49,326.16 191.58,326.16 192.66,326.16 193.75,326.16 194.83,326.16 195.92,326.16" fill="none" stroke="#000" stroke-width="1.6"/><polyline points="98.27,325.56 99.35,325.56 100.44,325.56 101.52,325.57 102.61,325.57 103.69,325.58 104.78,325.58 105.86,325.59 106.95,325.59 108.03,325.60 109.12,325.60 110.20,325.61 111.29,325.62 112.37,325.63 113.46,325.64 114.54,325.65 115.63,325.66 116.71,325.67 117.80,325.68 118.88,325.69 119.97,325.71 121.05,325.72 122.14,325.74 123.22,325.76 124.31,325.78 125.39,325.80 126.48,325.82 127.56,325.85 128.65,325.88 129.73,325.90 130.82,325.94 131.90,325.97 132.99,326.01 134.07,326.05 135.16,326.09 136.24,326.13 137.33,326.18 138.41,326.24 139.50,326.29 140.58,326.36 141.67,326.42 142.75,326.50 143.84,326.57 144.92,326.66 146.01,326.75 147.09,326.84 148.18,326.95 149.26,327.06 150.35,327.18 151.43,327.31 152.52,327.45 153.60,327.60 154.69,327.76 155.77,327.93 156.86,328.12 157.94,328.31 159.03,328.52 160.11,328.75 161.20,328.99 162.28,329.25 163.37,329.52 164.45,329.81 165.54,330.13 166.62,330.46 167.71,330.81 168.79,331.18 169.88,331.57 170.96,331.99 172.05,332.42 173.13,332.88 174.22,333.37 175.30,333.88 176.39,334.41 177.47,334.97 178.56,335.55 179.64,336.16 180.73,336.79 181.81,337.44 182.90,338.11 183.98,338.81 185.07,339.52 186.15,340.25 187.24,341.00 188.32,341.76 189.41,342.54 190.49,343.32 191.58,344.12 192.66,344.92 193.75,345.72 194.83,346.53 195.92,347.33" fill="none" stroke="#000" stroke-width="1.6"/><path d="M98.27,312.81V322.19M95.97,312.81H100.57M95.97,322.19H100.57M114.54,314.69V320.94M112.24,314.69H116.84M112.24,320.94H116.84M130.82,315.47V320.16M128.52,315.47H133.12M128.52,320.16H133.12M147.09,319.38V324.06M144.79,319.38H149.39M144.79,324.06H149.39M163.37,324.06V327.19M161.07,324.06H165.67M161.07,327.19H165.67M179.64,325.62V328.75M177.34,325.62H181.94M177.34,328.75H181.94M195.92,346.72V351.41M193.62,346.72H198.22M193.62,351.41H198.22" stroke="#000" stroke-width="0.9" fill="none"/><rect x="96.52" y="315.75" width="3.50" height="3.50" fill="#fff" stroke="#000" stroke-width="1.0"/><rect x="112.79" y="316.06" width="3.50" height="3.50" fill="#fff" stroke="#000" stroke-width="1.0"/><rect x="129.07" y="316.06" width="3.50" height="3.50" fill="#fff" stroke="#000" stroke-width="1.0"/><rect x="145.34" y="319.97" width="3.50" height="3.50" fill="#fff" stroke="#000" stroke-width="1.0"/><rect x="161.62" y="323.88" width="3.50" height="3.50" fill="#fff" stroke="#000" stroke-width="1.0"/><rect x="177.89" y="325.44" width="3.50" height="3.50" fill="#fff" stroke="#000" stroke-width="1.0"/><rect x="194.17" y="347.31" width="3.50" height="3.50" fill="#fff" stroke="#000" stroke-width="1.0"/><path d="M98.27,305.31V310.00M95.97,305.31H100.57M95.97,310.00H100.57M114.54,305.31V310.00M112.24,305.31H116.84M112.24,310.00H116.84M130.82,305.31V310.00M128.52,305.31H133.12M128.52,310.00H133.12M147.09,317.03V321.72M144.79,317.03H149.39M144.79,321.72H149.39M163.37,319.38V324.06M161.07,319.38H165.67M161.07,324.06H165.67M179.64,326.56V335.94M177.34,326.56H181.94M177.34,335.94H181.94M195.92,343.59V349.84M193.62,343.59H198.22M193.62,349.84H198.22" stroke="#000" stroke-width="0.9" fill="none"/><path d="M98.27,305.61L100.22,309.21L96.32,309.21Z" fill="#fff" stroke="#000" stroke-width="0.8"/><path d="M114.54,305.61L116.49,309.21L112.59,309.21Z" fill="#fff" stroke="#000" stroke-width="0.8"/><path d="M130.82,305.61L132.77,309.21L128.87,309.21Z" fill="#fff" stroke="#000" stroke-width="0.8"/><path d="M147.09,317.32L149.04,320.93L145.14,320.93Z" fill="#fff" stroke="#000" stroke-width="0.8"/><path d="M163.37,319.67L165.32,323.27L161.42,323.27Z" fill="#fff" stroke="#000" stroke-width="0.8"/><path d="M179.64,329.20L181.59,332.80L177.69,332.80Z" fill="#fff" stroke="#000" stroke-width="0.8"/><path d="M195.92,344.67L197.87,348.27L193.97,348.27Z" fill="#fff" stroke="#000" stroke-width="0.8"/><path d="M98.27,317.03V321.72M95.97,317.03H100.57M95.97,321.72H100.57M114.54,317.03V321.72M112.24,317.03H116.84M112.24,321.72H116.84M130.82,330.78V335.47M128.52,330.78H133.12M128.52,335.47H133.12M147.09,322.50V327.19M144.79,322.50H149.39M144.79,327.19H149.39M163.37,323.28V327.97M161.07,323.28H165.67M161.07,327.97H165.67M179.64,318.28V322.97M177.34,318.28H181.94M177.34,322.97H181.94M195.92,318.44V334.06M193.62,318.44H198.22M193.62,334.06H198.22" stroke="#000" stroke-width="0.9" fill="none"/><circle cx="98.27" cy="319.38" r="1.75" fill="#fff" stroke="#000" stroke-width="1.0"/><circle cx="114.54" cy="319.38" r="1.75" fill="#fff" stroke="#000" stroke-width="1.0"/><circle cx="130.82" cy="333.12" r="1.75" fill="#fff" stroke="#000" stroke-width="1.0"/><circle cx="147.09" cy="324.84" r="1.75" fill="#fff" stroke="#000" stroke-width="1.0"/><circle cx="163.37" cy="325.62" r="1.75" fill="#fff" stroke="#000" stroke-width="1.0"/><circle cx="179.64" cy="320.62" r="1.75" fill="#fff" stroke="#000" stroke-width="1.0"/><circle cx="195.92" cy="326.25" r="1.75" fill="#fff" stroke="#000" stroke-width="1.0"/><path d="M98.27,325.31V328.44M95.97,325.31H100.57M95.97,328.44H100.57M114.54,323.28V329.53M112.24,323.28H116.84M112.24,329.53H116.84M130.82,324.06V328.75M128.52,324.06H133.12M128.52,328.75H133.12M147.09,326.41V331.09M144.79,326.41H149.39M144.79,331.09H149.39M163.37,331.09V335.78M161.07,331.09H165.67M161.07,335.78H165.67M179.64,332.66V337.34M177.34,332.66H181.94M177.34,337.34H181.94M195.92,347.50V353.75M193.62,347.50H198.22M193.62,353.75H198.22" stroke="#000" stroke-width="0.9" fill="none"/><path d="M98.27,324.73L100.32,328.62L96.22,328.62Z" fill="#000"/><path d="M114.54,324.26L116.59,328.16L112.49,328.16Z" fill="#000"/><path d="M130.82,324.26L132.87,328.16L128.77,328.16Z" fill="#000"/><path d="M147.09,326.60L149.14,330.50L145.04,330.50Z" fill="#000"/><path d="M163.37,331.29L165.42,335.19L161.32,335.19Z" fill="#000"/><path d="M179.64,332.85L181.69,336.75L177.59,336.75Z" fill="#000"/><path d="M195.92,348.48L197.97,352.38L193.87,352.38Z" fill="#000"/></g><g id="B2"><path d="M332.5,303.9V397.5H473.1" fill="none" stroke="#000" stroke-width="1.6"/><text x="327.90" y="399.95" text-anchor="end" class="tk">0</text><text x="327.90" y="392.20" text-anchor="end" class="tk">10</text><text x="327.90" y="384.45" text-anchor="end" class="tk">20</text><text x="327.90" y="376.70" text-anchor="end" class="tk">30</text><text x="327.90" y="368.95" text-anchor="end" class="tk">40</text><text x="327.90" y="361.20" text-anchor="end" class="tk">50</text><text x="327.90" y="353.45" text-anchor="end" class="tk">60</text><text x="327.90" y="345.70" text-anchor="end" class="tk">70</text><text x="327.90" y="337.95" text-anchor="end" class="tk">80</text><text x="327.90" y="330.20" text-anchor="end" class="tk">90</text><text x="327.90" y="322.45" text-anchor="end" class="tk">100</text><text x="327.90" y="314.70" text-anchor="end" class="tk">110</text><text x="327.90" y="306.95" text-anchor="end" class="tk">120</text><text x="332.50" y="408.00" text-anchor="middle" class="tk">-3</text><text x="355.83" y="408.00" text-anchor="middle" class="tk">-2</text><text x="379.17" y="408.00" text-anchor="middle" class="tk">-1</text><text x="402.50" y="408.00" text-anchor="middle" class="tk">0</text><text x="425.83" y="408.00" text-anchor="middle" class="tk">1</text><text x="449.17" y="408.00" text-anchor="middle" class="tk">2</text><text x="472.50" y="408.00" text-anchor="middle" class="tk">3</text><path d="M328.3,397.50H332.5M328.3,389.75H332.5M328.3,382.00H332.5M328.3,374.25H332.5M328.3,366.50H332.5M328.3,358.75H332.5M328.3,351.00H332.5M328.3,343.25H332.5M328.3,335.50H332.5M328.3,327.75H332.5M328.3,320.00H332.5M328.3,312.25H332.5M328.3,304.50H332.5M332.50,397.5V401.3M355.83,397.5V401.3M379.17,397.5V401.3M402.50,397.5V401.3M425.83,397.5V401.3M449.17,397.5V401.3M472.50,397.5V401.3" stroke="#000" stroke-width="1.2" fill="none"/><text x="384.05" y="417.80" textLength="36.10" lengthAdjust="spacingAndGlyphs" class="lab">Log x(nM)</text><text transform="translate(312.50,381.10) rotate(-90)" x="0" y="0" textLength="58.8" lengthAdjust="spacingAndGlyphs" class="lab">Percent viability</text><text x="377.80" y="300.10" textLength="63.60" lengthAdjust="spacingAndGlyphs" class="ttl" style="font-size:12.6px">Granta-519</text><path d="M462.20,303.55L464.15,307.15L460.25,307.15Z" fill="#fff" stroke="#666" stroke-width="0.8"/><text x="471.30" y="307.80" textLength="41.20" lengthAdjust="spacingAndGlyphs" class="leg">20-(20)-(20)</text><path d="M462.20,314.45L464.25,318.35L460.15,318.35Z" fill="#000"/><text x="471.30" y="318.80" textLength="40.60" lengthAdjust="spacingAndGlyphs" class="leg">hA20+hLL1</text><polyline points="351.31,321.56 352.39,321.62 353.48,321.68 354.57,321.76 355.66,321.84 356.74,321.93 357.83,322.03 358.92,322.15 360.01,322.28 361.09,322.43 362.18,322.60 363.27,322.79 364.35,323.00 365.44,323.24 366.53,323.50 367.62,323.80 368.70,324.13 369.79,324.49 370.88,324.90 371.97,325.34 373.05,325.84 374.14,326.38 375.23,326.97 376.32,327.61 377.40,328.31 378.49,329.06 379.58,329.87 380.66,330.72 381.75,331.63 382.84,332.58 383.93,333.57 385.01,334.60 386.10,335.66 387.19,336.73 388.28,337.82 389.36,338.92 390.45,340.00 391.54,341.08 392.63,342.13 393.71,343.15 394.80,344.14 395.89,345.08 396.97,345.98 398.06,346.83 399.15,347.63 400.24,348.37 401.32,349.06 402.41,349.69 403.50,350.27 404.59,350.81 405.67,351.29 406.76,351.73 407.85,352.13 408.94,352.49 410.02,352.82 411.11,353.11 412.20,353.37 413.28,353.60 414.37,353.81 415.46,353.99 416.55,354.16 417.63,354.30 418.72,354.43 419.81,354.55 420.90,354.65 421.98,354.74 423.07,354.82 424.16,354.89 425.25,354.95 426.33,355.01 427.42,355.06 428.51,355.10 429.59,355.14 430.68,355.17 431.77,355.20 432.86,355.23 433.94,355.25 435.03,355.27 436.12,355.29 437.21,355.30 438.29,355.32 439.38,355.33 440.47,355.34 441.56,355.35 442.64,355.36 443.73,355.36 444.82,355.37 445.90,355.38 446.99,355.38 448.08,355.39 449.17,355.39" fill="none" stroke="#000" stroke-width="1.6"/><path d="M449.17,345.96V356.04M446.87,345.96H451.47M446.87,356.04H451.47" stroke="#000" stroke-width="0.9" fill="none"/><path d="M351.31,321.67L353.26,325.27L349.36,325.27Z" fill="#fff" stroke="#666" stroke-width="0.8"/><path d="M367.62,323.84L369.57,327.44L365.67,327.44Z" fill="#fff" stroke="#666" stroke-width="0.8"/><path d="M383.93,330.12L385.88,333.72L381.98,333.72Z" fill="#fff" stroke="#666" stroke-width="0.8"/><path d="M400.24,351.74L402.19,355.34L398.29,355.34Z" fill="#fff" stroke="#666" stroke-width="0.8"/><path d="M416.55,357.09L418.50,360.69L414.60,360.69Z" fill="#fff" stroke="#666" stroke-width="0.8"/><path d="M432.86,353.44L434.81,357.05L430.91,357.05Z" fill="#fff" stroke="#666" stroke-width="0.8"/><path d="M449.17,348.95L451.12,352.55L447.22,352.55Z" fill="#fff" stroke="#666" stroke-width="0.8"/><path d="M416.55,333.10V337.75M414.25,333.10H418.85M414.25,337.75H418.85M432.86,325.35V328.45M430.56,325.35H435.16M430.56,328.45H435.16M449.17,318.30V322.94M446.87,318.30H451.47M446.87,322.94H451.47" stroke="#000" stroke-width="0.9" fill="none"/><path d="M351.31,317.39L353.36,321.29L349.26,321.29Z" fill="#000"/><path d="M367.62,320.95L369.67,324.85L365.57,324.85Z" fill="#000"/><path d="M383.93,318.08L385.98,321.98L381.88,321.98Z" fill="#000"/><path d="M400.24,321.57L402.29,325.47L398.19,325.47Z" fill="#000"/><path d="M416.55,333.27L418.60,337.17L414.50,337.17Z" fill="#000"/><path d="M432.86,324.75L434.91,328.65L430.81,328.65Z" fill="#000"/><path d="M449.17,318.47L451.22,322.37L447.12,322.37Z" fill="#000"/></g><g id="B3"><path d="M79.5,445.65V540H225.1" fill="none" stroke="#000" stroke-width="1.6"/><text x="74.90" y="542.45" text-anchor="end" class="tk">0</text><text x="74.90" y="526.83" text-anchor="end" class="tk">25</text><text x="74.90" y="511.20" text-anchor="end" class="tk">50</text><text x="74.90" y="495.57" text-anchor="end" class="tk">75</text><text x="74.90" y="479.95" text-anchor="end" class="tk">100</text><text x="74.90" y="464.32" text-anchor="end" class="tk">125</text><text x="74.90" y="448.70" text-anchor="end" class="tk">150</text><text x="79.50" y="550.50" text-anchor="middle" class="tk">-3</text><text x="103.67" y="550.50" text-anchor="middle" class="tk">-2</text><text x="127.83" y="550.50" text-anchor="middle" class="tk">-1</text><text x="152.00" y="550.50" text-anchor="middle" class="tk">0</text><text x="176.17" y="550.50" text-anchor="middle" class="tk">1</text><text x="200.33" y="550.50" text-anchor="middle" class="tk">2</text><text x="224.50" y="550.50" text-anchor="middle" class="tk">3</text><path d="M75.3,540.00H79.5M75.3,524.38H79.5M75.3,508.75H79.5M75.3,493.12H79.5M75.3,477.50H79.5M75.3,461.88H79.5M75.3,446.25H79.5M79.50,540V543.8M103.67,540V543.8M127.83,540V543.8M152.00,540V543.8M176.17,540V543.8M200.33,540V543.8M224.50,540V543.8" stroke="#000" stroke-width="1.2" fill="none"/><text x="133.30" y="559.60" textLength="37.00" lengthAdjust="spacingAndGlyphs" class="lab">Log x(nM)</text><text transform="translate(59.50,523.23) rotate(-90)" x="0" y="0" textLength="58.8" lengthAdjust="spacingAndGlyphs" class="lab">Percent viability</text><text x="120.80" y="439.30" textLength="27.40" lengthAdjust="spacingAndGlyphs" class="ttl" style="font-size:13.0px">Mino</text><path d="M206.30,445.25L208.25,448.85L204.35,448.85Z" fill="#fff" stroke="#666" stroke-width="0.8"/><text x="216.00" y="449.50" textLength="41.70" lengthAdjust="spacingAndGlyphs" class="leg">20-(20)-(20)</text><path d="M206.30,455.45L208.35,459.35L204.25,459.35Z" fill="#000"/><text x="216.00" y="459.80" textLength="41.10" lengthAdjust="spacingAndGlyphs" class="leg">hA20+hLL1</text><polyline points="98.98,467.68 100.10,467.73 101.23,467.78 102.36,467.84 103.48,467.91 104.61,467.98 105.74,468.06 106.86,468.14 107.99,468.23 109.11,468.32 110.24,468.43 111.37,468.54 112.49,468.66 113.62,468.79 114.74,468.93 115.87,469.08 117.00,469.24 118.12,469.41 119.25,469.60 120.38,469.79 121.50,470.01 122.63,470.24 123.75,470.48 124.88,470.75 126.01,471.03 127.13,471.33 128.26,471.66 129.38,472.00 130.51,472.37 131.64,472.76 132.76,473.18 133.89,473.62 135.02,474.10 136.14,474.60 137.27,475.13 138.39,475.69 139.52,476.29 140.65,476.92 141.77,477.58 142.90,478.27 144.02,479.00 145.15,479.77 146.28,480.57 147.40,481.40 148.53,482.27 149.66,483.17 150.78,484.11 151.91,485.07 153.03,486.07 154.16,487.09 155.29,488.14 156.41,489.22 157.54,490.31 158.67,491.42 159.79,492.55 160.92,493.69 162.04,494.84 163.17,496.00 164.30,497.16 165.42,498.31 166.55,499.46 167.67,500.60 168.80,501.73 169.93,502.85 171.05,503.95 172.18,505.02 173.31,506.07 174.43,507.10 175.56,508.10 176.68,509.06 177.81,510.00 178.94,510.90 180.06,511.78 181.19,512.61 182.31,513.41 183.44,514.18 184.57,514.91 185.69,515.61 186.82,516.27 187.95,516.90 189.07,517.50 190.20,518.07 191.32,518.60 192.45,519.10 193.58,519.58 194.70,520.02 195.83,520.44 196.95,520.84 198.08,521.21 199.21,521.55 200.33,521.88" fill="none" stroke="#000" stroke-width="1.6"/><polyline points="98.98,463.77 100.10,463.77 101.23,463.78 102.36,463.78 103.48,463.79 104.61,463.79 105.74,463.80 106.86,463.80 107.99,463.81 109.11,463.82 110.24,463.83 111.37,463.83 112.49,463.84 113.62,463.85 114.74,463.86 115.87,463.87 117.00,463.89 118.12,463.90 119.25,463.91 120.38,463.93 121.50,463.95 122.63,463.96 123.75,463.98 124.88,464.01 126.01,464.03 127.13,464.05 128.26,464.08 129.38,464.11 130.51,464.14 131.64,464.17 132.76,464.21 133.89,464.25 135.02,464.29 136.14,464.34 137.27,464.39 138.39,464.44 139.52,464.50 140.65,464.56 141.77,464.63 142.90,464.71 144.02,464.79 145.15,464.87 146.28,464.96 147.40,465.06 148.53,465.17 149.66,465.29 150.78,465.41 151.91,465.55 153.03,465.70 154.16,465.86 155.29,466.03 156.41,466.21 157.54,466.41 158.67,466.62 159.79,466.85 160.92,467.10 162.04,467.37 163.17,467.66 164.30,467.96 165.42,468.30 166.55,468.65 167.67,469.04 168.80,469.45 169.93,469.89 171.05,470.37 172.18,470.87 173.31,471.42 174.43,472.00 175.56,472.62 176.68,473.29 177.81,474.00 178.94,474.75 180.06,475.56 181.19,476.41 182.31,477.32 183.44,478.29 184.57,479.31 185.69,480.39 186.82,481.53 187.95,482.73 189.07,484.00 190.20,485.33 191.32,486.73 192.45,488.19 193.58,489.72 194.70,491.31 195.83,492.96 196.95,494.68 198.08,496.46 199.21,498.29 200.33,500.18" fill="none" stroke="#000" stroke-width="1.6"/><path d="M98.98,462.12V480.38M96.68,462.12H101.28M96.68,480.38H101.28M115.87,465.31V479.69M113.57,465.31H118.17M113.57,479.69H118.17M132.76,457.81V479.69M130.46,457.81H135.06M130.46,479.69H135.06M149.66,479.38V493.12M147.36,479.38H151.96M147.36,493.12H151.96M166.55,497.50V507.50M164.25,497.50H168.85M164.25,507.50H168.85M183.44,508.06V514.31M181.14,508.06H185.74M181.14,514.31H185.74M200.33,521.62V529.12M198.03,521.62H202.63M198.03,529.12H202.63" stroke="#000" stroke-width="0.9" fill="none"/><path d="M98.98,469.20L100.93,472.80L97.03,472.80Z" fill="#fff" stroke="#666" stroke-width="0.8"/><path d="M115.87,470.45L117.82,474.05L113.92,474.05Z" fill="#fff" stroke="#666" stroke-width="0.8"/><path d="M132.76,466.70L134.71,470.30L130.81,470.30Z" fill="#fff" stroke="#666" stroke-width="0.8"/><path d="M149.66,484.20L151.61,487.80L147.71,487.80Z" fill="#fff" stroke="#666" stroke-width="0.8"/><path d="M166.55,500.45L168.50,504.05L164.60,504.05Z" fill="#fff" stroke="#666" stroke-width="0.8"/><path d="M183.44,509.14L185.39,512.74L181.49,512.74Z" fill="#fff" stroke="#666" stroke-width="0.8"/><path d="M200.33,523.33L202.28,526.92L198.38,526.92Z" fill="#fff" stroke="#666" stroke-width="0.8"/><path d="M98.98,458.00V473.62M96.68,458.00H101.28M96.68,473.62H101.28M115.87,455.62V473.12M113.57,455.62H118.17M113.57,473.12H118.17M132.76,456.25V472.50M130.46,456.25H135.06M130.46,472.50H135.06M149.66,458.12V472.88M147.36,458.12H151.96M147.36,472.88H151.96M166.55,467.25V478.50M164.25,467.25H168.85M164.25,478.50H168.85M183.44,470.81V485.81M181.14,470.81H185.74M181.14,485.81H185.74M200.33,496.12V506.12M198.03,496.12H202.63M198.03,506.12H202.63" stroke="#000" stroke-width="0.9" fill="none"/><path d="M98.98,463.66L101.03,467.56L96.93,467.56Z" fill="#000"/><path d="M115.87,462.23L117.92,466.12L113.82,466.12Z" fill="#000"/><path d="M132.76,462.23L134.81,466.12L130.71,466.12Z" fill="#000"/><path d="M149.66,463.35L151.71,467.25L147.61,467.25Z" fill="#000"/><path d="M166.55,470.73L168.60,474.62L164.50,474.62Z" fill="#000"/><path d="M183.44,476.16L185.49,480.06L181.39,480.06Z" fill="#000"/><path d="M200.33,498.98L202.38,502.88L198.28,502.88Z" fill="#000"/></g><g id="B4"><path d="M332.5,446.15V540.5H473.1" fill="none" stroke="#000" stroke-width="1.6"/><text x="327.90" y="542.95" text-anchor="end" class="tk">30</text><text x="327.90" y="531.23" text-anchor="end" class="tk">40</text><text x="327.90" y="519.51" text-anchor="end" class="tk">50</text><text x="327.90" y="507.79" text-anchor="end" class="tk">60</text><text x="327.90" y="496.07" text-anchor="end" class="tk">70</text><text x="327.90" y="484.36" text-anchor="end" class="tk">80</text><text x="327.90" y="472.64" text-anchor="end" class="tk">90</text><text x="327.90" y="460.92" text-anchor="end" class="tk">100</text><text x="327.90" y="449.20" text-anchor="end" class="tk">110</text><text x="332.50" y="551.00" text-anchor="middle" class="tk">-3</text><text x="355.83" y="551.00" text-anchor="middle" class="tk">-2</text><text x="379.17" y="551.00" text-anchor="middle" class="tk">-1</text><text x="402.50" y="551.00" text-anchor="middle" class="tk">0</text><text x="425.83" y="551.00" text-anchor="middle" class="tk">1</text><text x="449.17" y="551.00" text-anchor="middle" class="tk">2</text><text x="472.50" y="551.00" text-anchor="middle" class="tk">3</text><path d="M328.3,540.50H332.5M328.3,528.78H332.5M328.3,517.06H332.5M328.3,505.34H332.5M328.3,493.62H332.5M328.3,481.91H332.5M328.3,470.19H332.5M328.3,458.47H332.5M328.3,446.75H332.5M332.50,540.5V544.3M355.83,540.5V544.3M379.17,540.5V544.3M402.50,540.5V544.3M425.83,540.5V544.3M449.17,540.5V544.3M472.50,540.5V544.3" stroke="#000" stroke-width="1.2" fill="none"/><text x="384.10" y="559.90" textLength="36.20" lengthAdjust="spacingAndGlyphs" class="lab">Log x(nM)</text><text transform="translate(312.50,523.73) rotate(-90)" x="0" y="0" textLength="58.8" lengthAdjust="spacingAndGlyphs" class="lab">Percent viability</text><text x="378.55" y="437.20" textLength="21.10" lengthAdjust="spacingAndGlyphs" class="ttl" style="font-size:13.0px">Raji</text><rect x="461.55" y="445.85" width="3.50" height="3.50" fill="#fff" stroke="#000" stroke-width="1.0"/><text x="472.70" y="449.80" textLength="39.80" lengthAdjust="spacingAndGlyphs" class="leg">74-(74)-(74)</text><path d="M463.30,456.45L465.35,460.35L461.25,460.35Z" fill="#000"/><text x="472.70" y="460.80" textLength="39.20" lengthAdjust="spacingAndGlyphs" class="leg">hA20+hLL1</text><polyline points="351.31,456.68 352.39,456.70 353.48,456.72 354.57,456.74 355.66,456.77 356.74,456.79 357.83,456.82 358.92,456.85 360.01,456.88 361.09,456.92 362.18,456.96 363.27,457.01 364.35,457.06 365.44,457.11 366.53,457.17 367.62,457.23 368.70,457.30 369.79,457.38 370.88,457.46 371.97,457.55 373.05,457.65 374.14,457.76 375.23,457.88 376.32,458.00 377.40,458.14 378.49,458.29 379.58,458.46 380.66,458.64 381.75,458.83 382.84,459.04 383.93,459.26 385.01,459.51 386.10,459.77 387.19,460.05 388.28,460.35 389.36,460.67 390.45,461.02 391.54,461.39 392.63,461.78 393.71,462.20 394.80,462.64 395.89,463.10 396.97,463.59 398.06,464.10 399.15,464.64 400.24,465.20 401.32,465.78 402.41,466.38 403.50,466.99 404.59,467.63 405.67,468.27 406.76,468.93 407.85,469.60 408.94,470.27 410.02,470.95 411.11,471.62 412.20,472.29 413.28,472.96 414.37,473.62 415.46,474.26 416.55,474.90 417.63,475.51 418.72,476.11 419.81,476.69 420.90,477.24 421.98,477.78 423.07,478.29 424.16,478.78 425.25,479.24 426.33,479.68 427.42,480.10 428.51,480.49 429.59,480.85 430.68,481.20 431.77,481.52 432.86,481.82 433.94,482.10 435.03,482.36 436.12,482.60 437.21,482.83 438.29,483.03 439.38,483.23 440.47,483.40 441.56,483.57 442.64,483.72 443.73,483.86 444.82,483.98 445.90,484.10 446.99,484.21 448.08,484.31 449.17,484.40" fill="none" stroke="#000" stroke-width="1.6"/><polyline points="351.31,461.43 352.39,461.69 353.48,461.96 354.57,462.25 355.66,462.56 356.74,462.88 357.83,463.22 358.92,463.58 360.01,463.95 361.09,464.33 362.18,464.73 363.27,465.15 364.35,465.57 365.44,466.00 366.53,466.44 367.62,466.89 368.70,467.34 369.79,467.79 370.88,468.24 371.97,468.69 373.05,469.14 374.14,469.58 375.23,470.01 376.32,470.43 377.40,470.85 378.49,471.24 379.58,471.63 380.66,472.00 381.75,472.35 382.84,472.69 383.93,473.01 385.01,473.32 386.10,473.61 387.19,473.88 388.28,474.14 389.36,474.38 390.45,474.60 391.54,474.81 392.63,475.01 393.71,475.19 394.80,475.36 395.89,475.51 396.97,475.66 398.06,475.79 399.15,475.91 400.24,476.02 401.32,476.13 402.41,476.22 403.50,476.31 404.59,476.39 405.67,476.46 406.76,476.53 407.85,476.59 408.94,476.65 410.02,476.70 411.11,476.75 412.20,476.79 413.28,476.83 414.37,476.87 415.46,476.90 416.55,476.93 417.63,476.96 418.72,476.98 419.81,477.00 420.90,477.02 421.98,477.04 423.07,477.06 424.16,477.08 425.25,477.09 426.33,477.10 427.42,477.11 428.51,477.12 429.59,477.13 430.68,477.14 431.77,477.15 432.86,477.16 433.94,477.16 435.03,477.17 436.12,477.18 437.21,477.18 438.29,477.19 439.38,477.19 440.47,477.19 441.56,477.20 442.64,477.20 443.73,477.20 444.82,477.21 445.90,477.21 446.99,477.21 448.08,477.21 449.17,477.21" fill="none" stroke="#000" stroke-width="1.6"/><path d="M351.31,454.84V467.49M349.01,454.84H353.61M349.01,467.49H353.61M383.93,453.66V467.73M381.63,453.66H386.23M381.63,467.73H386.23M400.24,456.48V476.40M397.94,456.48H402.54M397.94,476.40H402.54M416.55,471.95V478.98M414.25,471.95H418.85M414.25,478.98H418.85M432.86,479.09V489.64M430.56,479.09H435.16M430.56,489.64H435.16M449.17,478.04V490.70M446.87,478.04H451.47M446.87,490.70H451.47" stroke="#000" stroke-width="0.9" fill="none"/><rect x="349.56" y="459.41" width="3.50" height="3.50" fill="#fff" stroke="#000" stroke-width="1.0"/><rect x="365.87" y="449.22" width="3.50" height="3.50" fill="#fff" stroke="#000" stroke-width="1.0"/><rect x="382.18" y="458.95" width="3.50" height="3.50" fill="#fff" stroke="#000" stroke-width="1.0"/><rect x="398.49" y="464.69" width="3.50" height="3.50" fill="#fff" stroke="#000" stroke-width="1.0"/><rect x="414.80" y="473.71" width="3.50" height="3.50" fill="#fff" stroke="#000" stroke-width="1.0"/><rect x="431.11" y="482.62" width="3.50" height="3.50" fill="#fff" stroke="#000" stroke-width="1.0"/><rect x="447.42" y="482.62" width="3.50" height="3.50" fill="#fff" stroke="#000" stroke-width="1.0"/><path d="M351.31,459.41V466.44M349.01,459.41H353.61M349.01,466.44H353.61M367.62,462.45V471.83M365.32,462.45H369.92M365.32,471.83H369.92M383.93,466.55V474.76M381.63,466.55H386.23M381.63,474.76H386.23M400.24,480.27V501.36M397.94,480.27H402.54M397.94,501.36H402.54M416.55,458.35V486.01M414.25,458.35H418.85M414.25,486.01H418.85M432.86,457.88V480.15M430.56,457.88H435.16M430.56,480.15H435.16M449.17,469.60V491.87M446.87,469.60H451.47M446.87,491.87H451.47" stroke="#000" stroke-width="0.9" fill="none"/><path d="M351.31,460.77L353.36,464.67L349.26,464.67Z" fill="#000"/><path d="M367.62,464.99L369.67,468.89L365.57,468.89Z" fill="#000"/><path d="M383.93,468.51L385.98,472.41L381.88,472.41Z" fill="#000"/><path d="M400.24,488.66L402.29,492.56L398.19,492.56Z" fill="#000"/><path d="M416.55,470.03L418.60,473.93L414.50,473.93Z" fill="#000"/><path d="M432.86,466.87L434.91,470.77L430.81,470.77Z" fill="#000"/><path d="M449.17,478.58L451.22,482.48L447.12,482.48Z" fill="#000"/></g><g id="C1"><path d="M79,580.65V675H218.1" fill="none" stroke="#000" stroke-width="1.6"/><text x="74.40" y="677.45" text-anchor="end" class="tk">20</text><text x="74.40" y="668.08" text-anchor="end" class="tk">30</text><text x="74.40" y="658.70" text-anchor="end" class="tk">40</text><text x="74.40" y="649.33" text-anchor="end" class="tk">50</text><text x="74.40" y="639.95" text-anchor="end" class="tk">60</text><text x="74.40" y="630.58" text-anchor="end" class="tk">70</text><text x="74.40" y="621.20" text-anchor="end" class="tk">80</text><text x="74.40" y="611.83" text-anchor="end" class="tk">90</text><text x="74.40" y="602.45" text-anchor="end" class="tk">100</text><text x="74.40" y="593.08" text-anchor="end" class="tk">110</text><text x="74.40" y="583.70" text-anchor="end" class="tk">120</text><text x="79.00" y="685.50" text-anchor="middle" class="tk">-3</text><text x="106.70" y="685.50" text-anchor="middle" class="tk">-2</text><text x="134.40" y="685.50" text-anchor="middle" class="tk">-1</text><text x="162.10" y="685.50" text-anchor="middle" class="tk">0</text><text x="189.80" y="685.50" text-anchor="middle" class="tk">1</text><text x="217.50" y="685.50" text-anchor="middle" class="tk">2</text><path d="M74.8,675.00H79M74.8,665.62H79M74.8,656.25H79M74.8,646.88H79M74.8,637.50H79M74.8,628.12H79M74.8,618.75H79M74.8,609.38H79M74.8,600.00H79M74.8,590.62H79M74.8,581.25H79M79.00,675V678.8M106.70,675V678.8M134.40,675V678.8M162.10,675V678.8M189.80,675V678.8M217.50,675V678.8" stroke="#000" stroke-width="1.2" fill="none"/><text x="130.25" y="694.20" textLength="35.70" lengthAdjust="spacingAndGlyphs" class="lab">Log x(nM)</text><text transform="translate(59.00,658.23) rotate(-90)" x="0" y="0" textLength="58.8" lengthAdjust="spacingAndGlyphs" class="lab">Percent viability</text><rect x="185.05" y="580.55" width="4.10" height="4.10" fill="#000"/><text x="196.40" y="584.80" textLength="40.00" lengthAdjust="spacingAndGlyphs" class="leg">20-(74)-(74)</text><rect x="185.35" y="591.55" width="3.50" height="3.50" fill="#fff" stroke="#555" stroke-width="0.8"/><text x="196.40" y="595.50" textLength="62.40" lengthAdjust="spacingAndGlyphs" class="leg">20-(74)-(74)+hA20</text><polyline points="95.07,594.11 96.27,594.14 97.47,594.17 98.67,594.20 99.87,594.24 101.07,594.28 102.27,594.33 103.47,594.38 104.67,594.43 105.87,594.49 107.07,594.56 108.27,594.63 109.47,594.71 110.67,594.79 111.87,594.89 113.07,594.99 114.27,595.10 115.47,595.22 116.67,595.36 117.87,595.50 119.07,595.66 120.27,595.83 121.47,596.02 122.67,596.23 123.87,596.46 125.07,596.70 126.27,596.97 127.47,597.26 128.68,597.58 129.88,597.92 131.08,598.30 132.28,598.70 133.48,599.14 134.68,599.62 135.88,600.13 137.08,600.68 138.28,601.28 139.48,601.92 140.68,602.61 141.88,603.36 143.08,604.15 144.28,605.00 145.48,605.90 146.68,606.86 147.88,607.89 149.08,608.97 150.28,610.11 151.48,611.31 152.68,612.57 153.88,613.89 155.08,615.27 156.28,616.70 157.48,618.18 158.68,619.71 159.88,621.28 161.08,622.88 162.28,624.52 163.48,626.18 164.69,627.86 165.89,629.56 167.09,631.25 168.29,632.95 169.49,634.63 170.69,636.30 171.89,637.94 173.09,639.55 174.29,641.13 175.49,642.66 176.69,644.15 177.89,645.59 179.09,646.98 180.29,648.31 181.49,649.58 182.69,650.79 183.89,651.94 185.09,653.03 186.29,654.06 187.49,655.04 188.69,655.95 189.89,656.81 191.09,657.61 192.29,658.36 193.49,659.06 194.69,659.71 195.89,660.32 197.09,660.88 198.29,661.40 199.49,661.88 200.70,662.32 201.90,662.73 203.10,663.11" fill="none" stroke="#000" stroke-width="1.6"/><polyline points="95.07,594.14 96.27,594.17 97.47,594.21 98.67,594.25 99.87,594.30 101.07,594.35 102.27,594.40 103.47,594.46 104.67,594.52 105.87,594.59 107.07,594.66 108.27,594.75 109.47,594.83 110.67,594.93 111.87,595.03 113.07,595.14 114.27,595.26 115.47,595.39 116.67,595.53 117.87,595.68 119.07,595.84 120.27,596.01 121.47,596.20 122.67,596.41 123.87,596.62 125.07,596.86 126.27,597.11 127.47,597.39 128.68,597.68 129.88,597.99 131.08,598.33 132.28,598.69 133.48,599.07 134.68,599.48 135.88,599.92 137.08,600.38 138.28,600.88 139.48,601.40 140.68,601.95 141.88,602.54 143.08,603.16 144.28,603.81 145.48,604.49 146.68,605.21 147.88,605.95 149.08,606.73 150.28,607.55 151.48,608.39 152.68,609.26 153.88,610.16 155.08,611.08 156.28,612.02 157.48,612.99 158.68,613.97 159.88,614.97 161.08,615.98 162.28,617.00 163.48,618.02 164.69,619.04 165.89,620.07 167.09,621.08 168.29,622.09 169.49,623.08 170.69,624.06 171.89,625.02 173.09,625.95 174.29,626.87 175.49,627.76 176.69,628.62 177.89,629.45 179.09,630.25 180.29,631.02 181.49,631.75 182.69,632.46 183.89,633.13 185.09,633.77 186.29,634.38 187.49,634.95 188.69,635.49 189.89,636.01 191.09,636.49 192.29,636.94 193.49,637.37 194.69,637.77 195.89,638.15 197.09,638.50 198.29,638.82 199.49,639.13 200.70,639.42 201.90,639.68 203.10,639.93" fill="none" stroke="#000" stroke-width="1.0"/><path d="M95.07,591.84V595.59M92.77,591.84H97.37M92.77,595.59H97.37M108.64,596.91V600.66M106.34,596.91H110.94M106.34,600.66H110.94M149.63,596.25V600.00M147.33,596.25H151.94M147.33,600.00H151.94M162.10,611.16V618.66M159.80,611.16H164.40M159.80,618.66H164.40M189.80,632.25V637.88M187.50,632.25H192.10M187.50,637.88H192.10M203.10,637.22V640.97M200.80,637.22H205.40M200.80,640.97H205.40" stroke="#555" stroke-width="0.9" fill="none"/><rect x="93.32" y="591.97" width="3.50" height="3.50" fill="#fff" stroke="#555" stroke-width="0.8"/><rect x="106.89" y="597.03" width="3.50" height="3.50" fill="#fff" stroke="#555" stroke-width="0.8"/><rect x="147.88" y="596.38" width="3.50" height="3.50" fill="#fff" stroke="#555" stroke-width="0.8"/><rect x="160.35" y="613.16" width="3.50" height="3.50" fill="#fff" stroke="#555" stroke-width="0.8"/><rect x="174.20" y="634.62" width="3.50" height="3.50" fill="#fff" stroke="#555" stroke-width="0.8"/><rect x="188.05" y="633.31" width="3.50" height="3.50" fill="#fff" stroke="#555" stroke-width="0.8"/><rect x="201.35" y="637.34" width="3.50" height="3.50" fill="#fff" stroke="#555" stroke-width="0.8"/><path d="M95.07,593.06V597.94M92.77,593.06H97.37M92.77,597.94H97.37M108.64,598.03V602.91M106.34,598.03H110.94M106.34,602.91H110.94M149.63,597.09V601.97M147.33,597.09H151.94M147.33,601.97H151.94M162.10,624.38V628.12M159.80,624.38H164.40M159.80,628.12H164.40" stroke="#000" stroke-width="0.9" fill="none"/><rect x="93.02" y="593.45" width="4.10" height="4.10" fill="#000"/><rect x="106.59" y="598.42" width="4.10" height="4.10" fill="#000"/><rect x="147.58" y="597.48" width="4.10" height="4.10" fill="#000"/><rect x="160.05" y="624.20" width="4.10" height="4.10" fill="#000"/><rect x="173.90" y="659.54" width="4.10" height="4.10" fill="#000"/><rect x="187.75" y="657.29" width="4.10" height="4.10" fill="#000"/><rect x="201.05" y="654.20" width="4.10" height="4.10" fill="#000"/></g><g id="C3"><path d="M79,721.15V815H218.1" fill="none" stroke="#000" stroke-width="1.6"/><text x="74.40" y="817.45" text-anchor="end" class="tk">20</text><text x="74.40" y="808.12" text-anchor="end" class="tk">30</text><text x="74.40" y="798.80" text-anchor="end" class="tk">40</text><text x="74.40" y="789.48" text-anchor="end" class="tk">50</text><text x="74.40" y="780.15" text-anchor="end" class="tk">60</text><text x="74.40" y="770.83" text-anchor="end" class="tk">70</text><text x="74.40" y="761.50" text-anchor="end" class="tk">80</text><text x="74.40" y="752.18" text-anchor="end" class="tk">90</text><text x="74.40" y="742.85" text-anchor="end" class="tk">100</text><text x="74.40" y="733.53" text-anchor="end" class="tk">110</text><text x="74.40" y="724.20" text-anchor="end" class="tk">120</text><text x="79.00" y="825.50" text-anchor="middle" class="tk">-3</text><text x="106.70" y="825.50" text-anchor="middle" class="tk">-2</text><text x="134.40" y="825.50" text-anchor="middle" class="tk">-1</text><text x="162.10" y="825.50" text-anchor="middle" class="tk">0</text><text x="189.80" y="825.50" text-anchor="middle" class="tk">1</text><text x="217.50" y="825.50" text-anchor="middle" class="tk">2</text><path d="M74.8,815.00H79M74.8,805.67H79M74.8,796.35H79M74.8,787.02H79M74.8,777.70H79M74.8,768.38H79M74.8,759.05H79M74.8,749.73H79M74.8,740.40H79M74.8,731.08H79M74.8,721.75H79M79.00,815V818.8M106.70,815V818.8M134.40,815V818.8M162.10,815V818.8M189.80,815V818.8M217.50,815V818.8" stroke="#000" stroke-width="1.2" fill="none"/><text x="130.25" y="834.20" textLength="35.70" lengthAdjust="spacingAndGlyphs" class="lab">Log x(nM)</text><text transform="translate(59.00,798.48) rotate(-90)" x="0" y="0" textLength="58.8" lengthAdjust="spacingAndGlyphs" class="lab">Percent viability</text><rect x="185.05" y="720.55" width="4.10" height="4.10" fill="#000"/><text x="196.40" y="724.80" textLength="40.00" lengthAdjust="spacingAndGlyphs" class="leg">20-(74)-(74)</text><circle cx="187.10" cy="733.30" r="1.75" fill="#fff" stroke="#555" stroke-width="0.8"/><text x="196.40" y="735.50" textLength="62.40" lengthAdjust="spacingAndGlyphs" class="leg">20-(74)-(74)+hLL1</text><polyline points="95.07,735.86 96.27,735.88 97.47,735.89 98.67,735.91 99.87,735.93 101.07,735.95 102.27,735.98 103.47,736.01 104.67,736.04 105.87,736.07 107.07,736.11 108.27,736.15 109.47,736.20 110.67,736.25 111.87,736.31 113.07,736.37 114.27,736.44 115.47,736.52 116.67,736.61 117.87,736.71 119.07,736.82 120.27,736.94 121.47,737.07 122.67,737.22 123.87,737.39 125.07,737.57 126.27,737.77 127.47,738.00 128.68,738.25 129.88,738.52 131.08,738.83 132.28,739.16 133.48,739.53 134.68,739.94 135.88,740.39 137.08,740.88 138.28,741.42 139.48,742.01 140.68,742.65 141.88,743.36 143.08,744.12 144.28,744.95 145.48,745.85 146.68,746.83 147.88,747.87 149.08,749.00 150.28,750.20 151.48,751.48 152.68,752.84 153.88,754.28 155.08,755.79 156.28,757.38 157.48,759.03 158.68,760.75 159.88,762.51 161.08,764.33 162.28,766.18 163.48,768.06 164.69,769.96 165.89,771.86 167.09,773.76 168.29,775.64 169.49,777.49 170.69,779.31 171.89,781.08 173.09,782.80 174.29,784.45 175.49,786.04 176.69,787.56 177.89,789.00 179.09,790.36 180.29,791.65 181.49,792.86 182.69,793.98 183.89,795.03 185.09,796.01 186.29,796.91 187.49,797.75 188.69,798.52 189.89,799.22 191.09,799.87 192.29,800.46 193.49,801.01 194.69,801.50 195.89,801.95 197.09,802.36 198.29,802.73 199.49,803.07 200.70,803.37 201.90,803.65 203.10,803.90" fill="none" stroke="#000" stroke-width="1.6"/><polyline points="95.07,735.85 96.27,735.86 97.47,735.87 98.67,735.88 99.87,735.89 101.07,735.90 102.27,735.91 103.47,735.92 104.67,735.93 105.87,735.95 107.07,735.96 108.27,735.98 109.47,736.00 110.67,736.02 111.87,736.05 113.07,736.07 114.27,736.10 115.47,736.13 116.67,736.17 117.87,736.21 119.07,736.25 120.27,736.29 121.47,736.35 122.67,736.40 123.87,736.46 125.07,736.53 126.27,736.60 127.47,736.68 128.68,736.77 129.88,736.87 131.08,736.98 132.28,737.09 133.48,737.22 134.68,737.36 135.88,737.51 137.08,737.68 138.28,737.87 139.48,738.07 140.68,738.29 141.88,738.53 143.08,738.79 144.28,739.08 145.48,739.39 146.68,739.73 147.88,740.10 149.08,740.51 150.28,740.95 151.48,741.43 152.68,741.94 153.88,742.50 155.08,743.11 156.28,743.76 157.48,744.47 158.68,745.22 159.88,746.04 161.08,746.91 162.28,747.85 163.48,748.84 164.69,749.90 165.89,751.03 167.09,752.22 168.29,753.48 169.49,754.80 170.69,756.19 171.89,757.64 173.09,759.14 174.29,760.71 175.49,762.33 176.69,763.99 177.89,765.70 179.09,767.43 180.29,769.20 181.49,770.99 182.69,772.79 183.89,774.59 185.09,776.39 186.29,778.18 187.49,779.95 188.69,781.69 189.89,783.40 191.09,785.06 192.29,786.68 193.49,788.25 194.69,789.76 195.89,791.21 197.09,792.60 198.29,793.93 199.49,795.19 200.70,796.38 201.90,797.51 203.10,798.57" fill="none" stroke="#000" stroke-width="1.6"/><path d="M95.07,733.41V737.14M92.77,733.41H97.37M92.77,737.14H97.37M108.64,738.53V742.26M106.34,738.53H110.94M106.34,742.26H110.94M149.63,734.34V738.07M147.33,734.34H151.94M147.33,738.07H151.94M162.10,743.38V747.11M159.80,743.38H164.40M159.80,747.11H164.40M175.95,760.91V766.51M173.65,760.91H178.25M173.65,766.51H178.25M189.80,785.44V793.83M187.50,785.44H192.10M187.50,793.83H192.10M203.10,794.49V798.22M200.80,794.49H205.40M200.80,798.22H205.40" stroke="#555" stroke-width="0.9" fill="none"/><circle cx="95.07" cy="735.27" r="1.75" fill="#fff" stroke="#555" stroke-width="0.8"/><circle cx="108.64" cy="740.40" r="1.75" fill="#fff" stroke="#555" stroke-width="0.8"/><circle cx="149.63" cy="736.20" r="1.75" fill="#fff" stroke="#555" stroke-width="0.8"/><circle cx="162.10" cy="745.25" r="1.75" fill="#fff" stroke="#555" stroke-width="0.8"/><circle cx="175.95" cy="763.71" r="1.75" fill="#fff" stroke="#555" stroke-width="0.8"/><circle cx="189.80" cy="789.64" r="1.75" fill="#fff" stroke="#555" stroke-width="0.8"/><circle cx="203.10" cy="796.35" r="1.75" fill="#fff" stroke="#555" stroke-width="0.8"/><path d="M95.07,733.50V738.35M92.77,733.50H97.37M92.77,738.35H97.37M108.64,738.44V743.29M106.34,738.44H110.94M106.34,743.29H110.94M149.63,737.04V741.89M147.33,737.04H151.94M147.33,741.89H151.94M162.10,764.46V768.19M159.80,764.46H164.40M159.80,768.19H164.40" stroke="#000" stroke-width="0.9" fill="none"/><rect x="93.02" y="733.87" width="4.10" height="4.10" fill="#000"/><rect x="106.59" y="738.82" width="4.10" height="4.10" fill="#000"/><rect x="147.58" y="737.42" width="4.10" height="4.10" fill="#000"/><rect x="160.05" y="764.27" width="4.10" height="4.10" fill="#000"/><rect x="173.90" y="799.99" width="4.10" height="4.10" fill="#000"/><rect x="187.75" y="797.28" width="4.10" height="4.10" fill="#000"/><rect x="201.05" y="793.93" width="4.10" height="4.10" fill="#000"/></g><g id="C2"><path d="M332.5,581.15V675.5H473.40000000000003" fill="none" stroke="#000" stroke-width="1.6"/><text x="327.90" y="677.95" text-anchor="end" class="tk">20</text><text x="327.90" y="668.58" text-anchor="end" class="tk">30</text><text x="327.90" y="659.20" text-anchor="end" class="tk">40</text><text x="327.90" y="649.83" text-anchor="end" class="tk">50</text><text x="327.90" y="640.45" text-anchor="end" class="tk">60</text><text x="327.90" y="631.08" text-anchor="end" class="tk">70</text><text x="327.90" y="621.70" text-anchor="end" class="tk">80</text><text x="327.90" y="612.33" text-anchor="end" class="tk">90</text><text x="327.90" y="602.95" text-anchor="end" class="tk">100</text><text x="327.90" y="593.58" text-anchor="end" class="tk">110</text><text x="327.90" y="584.20" text-anchor="end" class="tk">120</text><text x="332.50" y="686.00" text-anchor="middle" class="tk">-3</text><text x="360.56" y="686.00" text-anchor="middle" class="tk">-2</text><text x="388.62" y="686.00" text-anchor="middle" class="tk">-1</text><text x="416.68" y="686.00" text-anchor="middle" class="tk">0</text><text x="444.74" y="686.00" text-anchor="middle" class="tk">1</text><text x="472.80" y="686.00" text-anchor="middle" class="tk">2</text><path d="M328.3,675.50H332.5M328.3,666.12H332.5M328.3,656.75H332.5M328.3,647.38H332.5M328.3,638.00H332.5M328.3,628.62H332.5M328.3,619.25H332.5M328.3,609.88H332.5M328.3,600.50H332.5M328.3,591.12H332.5M328.3,581.75H332.5M332.50,675.5V679.3M360.56,675.5V679.3M388.62,675.5V679.3M416.68,675.5V679.3M444.74,675.5V679.3M472.80,675.5V679.3" stroke="#000" stroke-width="1.2" fill="none"/><text x="384.10" y="694.60" textLength="36.80" lengthAdjust="spacingAndGlyphs" class="lab">Log x(nM)</text><text transform="translate(312.50,658.73) rotate(-90)" x="0" y="0" textLength="58.8" lengthAdjust="spacingAndGlyphs" class="lab">Percent viability</text><circle cx="440.60" cy="582.60" r="2.05" fill="#000"/><text x="449.60" y="584.80" textLength="40.00" lengthAdjust="spacingAndGlyphs" class="leg">74-(20)-(20)</text><rect x="438.85" y="591.55" width="3.50" height="3.50" fill="#fff" stroke="#555" stroke-width="0.8"/><text x="449.60" y="595.50" textLength="62.90" lengthAdjust="spacingAndGlyphs" class="leg">74-(20)-(20)+hA20</text><polyline points="348.77,604.10 349.99,604.11 351.21,604.13 352.42,604.15 353.64,604.17 354.85,604.19 356.07,604.21 357.29,604.24 358.50,604.27 359.72,604.30 360.93,604.34 362.15,604.38 363.37,604.42 364.58,604.47 365.80,604.53 367.01,604.58 368.23,604.65 369.45,604.72 370.66,604.79 371.88,604.88 373.09,604.97 374.31,605.07 375.53,605.19 376.74,605.31 377.96,605.44 379.17,605.59 380.39,605.75 381.61,605.93 382.82,606.12 384.04,606.33 385.25,606.56 386.47,606.81 387.68,607.09 388.90,607.39 390.12,607.72 391.33,608.07 392.55,608.46 393.76,608.88 394.98,609.34 396.20,609.84 397.41,610.38 398.63,610.96 399.84,611.59 401.06,612.27 402.28,613.00 403.49,613.78 404.71,614.63 405.92,615.53 407.14,616.49 408.36,617.51 409.57,618.60 410.79,619.74 412.00,620.96 413.22,622.23 414.44,623.57 415.65,624.97 416.87,626.43 418.08,627.94 419.30,629.50 420.51,631.10 421.73,632.75 422.95,634.43 424.16,636.13 425.38,637.85 426.59,639.59 427.81,641.32 429.03,643.06 430.24,644.78 431.46,646.48 432.67,648.15 433.89,649.79 435.11,651.39 436.32,652.94 437.54,654.45 438.75,655.89 439.97,657.28 441.19,658.61 442.40,659.88 443.62,661.09 444.83,662.23 446.05,663.30 447.27,664.32 448.48,665.27 449.70,666.16 450.91,667.00 452.13,667.77 453.35,668.50 454.56,669.17 455.78,669.79 456.99,670.37 458.21,670.90" fill="none" stroke="#000" stroke-width="1.6"/><polyline points="348.77,604.18 349.99,604.19 351.21,604.21 352.42,604.22 353.64,604.24 354.85,604.26 356.07,604.28 357.29,604.31 358.50,604.33 359.72,604.36 360.93,604.40 362.15,604.43 363.37,604.47 364.58,604.51 365.80,604.56 367.01,604.62 368.23,604.67 369.45,604.74 370.66,604.81 371.88,604.89 373.09,604.97 374.31,605.07 375.53,605.17 376.74,605.29 377.96,605.41 379.17,605.55 380.39,605.70 381.61,605.87 382.82,606.05 384.04,606.25 385.25,606.47 386.47,606.71 387.68,606.98 388.90,607.26 390.12,607.58 391.33,607.92 392.55,608.29 393.76,608.70 394.98,609.14 396.20,609.62 397.41,610.13 398.63,610.69 399.84,611.29 401.06,611.93 402.28,612.62 403.49,613.36 404.71,614.15 405.92,614.98 407.14,615.87 408.36,616.80 409.57,617.79 410.79,618.82 412.00,619.89 413.22,621.01 414.44,622.17 415.65,623.37 416.87,624.59 418.08,625.84 419.30,627.11 420.51,628.40 421.73,629.69 422.95,630.99 424.16,632.28 425.38,633.56 426.59,634.82 427.81,636.06 429.03,637.27 430.24,638.45 431.46,639.59 432.67,640.68 433.89,641.74 435.11,642.75 436.32,643.71 437.54,644.62 438.75,645.48 439.97,646.29 441.19,647.05 442.40,647.77 443.62,648.44 444.83,649.06 446.05,649.64 447.27,650.17 448.48,650.67 449.70,651.13 450.91,651.55 452.13,651.94 453.35,652.29 454.56,652.62 455.78,652.92 456.99,653.20 458.21,653.45" fill="none" stroke="#000" stroke-width="1.0"/><path d="M348.77,600.50V606.12M346.47,600.50H351.07M346.47,606.12H351.07M362.52,601.44V610.81M360.22,601.44H364.82M360.22,610.81H364.82M404.05,611.09V616.72M401.75,611.09H406.35M401.75,616.72H406.35M416.68,628.53V632.28M414.38,628.53H418.98M414.38,632.28H418.98M430.71,636.03V643.53M428.41,636.03H433.01M428.41,643.53H433.01M444.74,646.06V649.81M442.44,646.06H447.04M442.44,649.81H447.04" stroke="#555" stroke-width="0.9" fill="none"/><rect x="347.02" y="601.56" width="3.50" height="3.50" fill="#fff" stroke="#555" stroke-width="0.8"/><rect x="360.77" y="604.38" width="3.50" height="3.50" fill="#fff" stroke="#555" stroke-width="0.8"/><rect x="402.30" y="612.16" width="3.50" height="3.50" fill="#fff" stroke="#555" stroke-width="0.8"/><rect x="414.93" y="628.66" width="3.50" height="3.50" fill="#fff" stroke="#555" stroke-width="0.8"/><rect x="428.96" y="638.03" width="3.50" height="3.50" fill="#fff" stroke="#555" stroke-width="0.8"/><rect x="442.99" y="646.19" width="3.50" height="3.50" fill="#fff" stroke="#555" stroke-width="0.8"/><rect x="456.46" y="654.25" width="3.50" height="3.50" fill="#fff" stroke="#555" stroke-width="0.8"/><path d="M348.77,599.56V607.06M346.47,599.56H351.07M346.47,607.06H351.07M362.52,605.47V614.84M360.22,605.47H364.82M360.22,614.84H364.82M404.05,609.59V613.34M401.75,609.59H406.35M401.75,613.34H406.35M416.68,624.41V628.16M414.38,624.41H418.98M414.38,628.16H418.98" stroke="#000" stroke-width="0.9" fill="none"/><circle cx="348.77" cy="603.31" r="2.05" fill="#000"/><circle cx="362.52" cy="610.16" r="2.05" fill="#000"/><circle cx="404.05" cy="611.47" r="2.05" fill="#000"/><circle cx="416.68" cy="626.28" r="2.05" fill="#000"/><circle cx="430.71" cy="655.34" r="2.05" fill="#000"/><circle cx="444.74" cy="665.38" r="2.05" fill="#000"/><circle cx="458.21" cy="668.66" r="2.05" fill="#000"/></g><g id="C4"><path d="M332.5,721.15V815.5H473.40000000000003" fill="none" stroke="#000" stroke-width="1.6"/><text x="327.90" y="817.95" text-anchor="end" class="tk">20</text><text x="327.90" y="808.58" text-anchor="end" class="tk">30</text><text x="327.90" y="799.20" text-anchor="end" class="tk">40</text><text x="327.90" y="789.83" text-anchor="end" class="tk">50</text><text x="327.90" y="780.45" text-anchor="end" class="tk">60</text><text x="327.90" y="771.08" text-anchor="end" class="tk">70</text><text x="327.90" y="761.70" text-anchor="end" class="tk">80</text><text x="327.90" y="752.33" text-anchor="end" class="tk">90</text><text x="327.90" y="742.95" text-anchor="end" class="tk">100</text><text x="327.90" y="733.58" text-anchor="end" class="tk">110</text><text x="327.90" y="724.20" text-anchor="end" class="tk">120</text><text x="332.50" y="826.00" text-anchor="middle" class="tk">-3</text><text x="360.56" y="826.00" text-anchor="middle" class="tk">-2</text><text x="388.62" y="826.00" text-anchor="middle" class="tk">-1</text><text x="416.68" y="826.00" text-anchor="middle" class="tk">0</text><text x="444.74" y="826.00" text-anchor="middle" class="tk">1</text><text x="472.80" y="826.00" text-anchor="middle" class="tk">2</text><path d="M328.3,815.50H332.5M328.3,806.12H332.5M328.3,796.75H332.5M328.3,787.38H332.5M328.3,778.00H332.5M328.3,768.62H332.5M328.3,759.25H332.5M328.3,749.88H332.5M328.3,740.50H332.5M328.3,731.12H332.5M328.3,721.75H332.5M332.50,815.5V819.3M360.56,815.5V819.3M388.62,815.5V819.3M416.68,815.5V819.3M444.74,815.5V819.3M472.80,815.5V819.3" stroke="#000" stroke-width="1.2" fill="none"/><text x="384.90" y="835.00" textLength="35.40" lengthAdjust="spacingAndGlyphs" class="lab">Log x(nM)</text><text transform="translate(312.50,798.73) rotate(-90)" x="0" y="0" textLength="58.8" lengthAdjust="spacingAndGlyphs" class="lab">Percent viability</text><circle cx="440.60" cy="722.60" r="2.05" fill="#000"/><text x="449.60" y="724.80" textLength="40.00" lengthAdjust="spacingAndGlyphs" class="leg">74-(20)-(20)</text><circle cx="440.60" cy="733.30" r="1.75" fill="#fff" stroke="#555" stroke-width="0.8"/><text x="449.60" y="735.50" textLength="62.40" lengthAdjust="spacingAndGlyphs" class="leg">74-(20)-(20)+hLL1</text><polyline points="348.77,744.21 349.99,744.23 351.21,744.24 352.42,744.26 353.64,744.29 354.85,744.31 356.07,744.34 357.29,744.37 358.50,744.40 359.72,744.43 360.93,744.47 362.15,744.51 363.37,744.56 364.58,744.61 365.80,744.67 367.01,744.73 368.23,744.79 369.45,744.87 370.66,744.95 371.88,745.03 373.09,745.13 374.31,745.23 375.53,745.35 376.74,745.47 377.96,745.61 379.17,745.76 380.39,745.92 381.61,746.10 382.82,746.29 384.04,746.50 385.25,746.73 386.47,746.98 387.68,747.25 388.90,747.55 390.12,747.87 391.33,748.23 392.55,748.61 393.76,749.02 394.98,749.47 396.20,749.95 397.41,750.48 398.63,751.04 399.84,751.65 401.06,752.30 402.28,753.01 403.49,753.77 404.71,754.57 405.92,755.44 407.14,756.36 408.36,757.34 409.57,758.38 410.79,759.48 412.00,760.65 413.22,761.87 414.44,763.16 415.65,764.50 416.87,765.90 418.08,767.36 419.30,768.87 420.51,770.42 421.73,772.02 422.95,773.66 424.16,775.33 425.38,777.02 426.59,778.73 427.81,780.45 429.03,782.18 430.24,783.90 431.46,785.62 432.67,787.31 433.89,788.98 435.11,790.62 436.32,792.23 437.54,793.79 438.75,795.30 439.97,796.76 441.19,798.17 442.40,799.52 443.62,800.82 444.83,802.05 446.05,803.22 447.27,804.33 448.48,805.38 449.70,806.37 450.91,807.29 452.13,808.17 453.35,808.98 454.56,809.74 455.78,810.45 456.99,811.12 458.21,811.73" fill="none" stroke="#000" stroke-width="1.6"/><polyline points="348.77,741.72 349.99,741.73 351.21,741.74 352.42,741.75 353.64,741.76 354.85,741.77 356.07,741.78 357.29,741.79 358.50,741.81 359.72,741.82 360.93,741.84 362.15,741.86 363.37,741.88 364.58,741.91 365.80,741.93 367.01,741.96 368.23,741.99 369.45,742.03 370.66,742.06 371.88,742.10 373.09,742.15 374.31,742.20 375.53,742.26 376.74,742.32 377.96,742.38 379.17,742.46 380.39,742.54 381.61,742.63 382.82,742.73 384.04,742.83 385.25,742.95 386.47,743.08 387.68,743.22 388.90,743.38 390.12,743.55 391.33,743.74 392.55,743.94 393.76,744.17 394.98,744.41 396.20,744.68 397.41,744.97 398.63,745.29 399.84,745.64 401.06,746.02 402.28,746.43 403.49,746.88 404.71,747.37 405.92,747.90 407.14,748.47 408.36,749.09 409.57,749.75 410.79,750.47 412.00,751.24 413.22,752.06 414.44,752.94 415.65,753.88 416.87,754.88 418.08,755.94 419.30,757.06 420.51,758.24 421.73,759.47 422.95,760.77 424.16,762.12 425.38,763.52 426.59,764.96 427.81,766.45 429.03,767.98 430.24,769.54 431.46,771.12 432.67,772.72 433.89,774.33 435.11,775.94 436.32,777.55 437.54,779.14 438.75,780.72 439.97,782.26 441.19,783.78 442.40,785.26 443.62,786.69 444.83,788.07 446.05,789.40 447.27,790.68 448.48,791.90 449.70,793.06 450.91,794.16 452.13,795.20 453.35,796.18 454.56,797.10 455.78,797.96 456.99,798.76 458.21,799.52" fill="none" stroke="#000" stroke-width="1.0"/><path d="M348.77,739.09V744.72M346.47,739.09H351.07M346.47,744.72H351.07M362.52,739.56V745.19M360.22,739.56H364.82M360.22,745.19H364.82M404.05,742.38V747.06M401.75,742.38H406.35M401.75,747.06H406.35M416.68,752.50V763.75M414.38,752.50H418.98M414.38,763.75H418.98M430.71,769.84V777.34M428.41,769.84H433.01M428.41,777.34H433.01M444.74,785.88V792.44M442.44,785.88H447.04M442.44,792.44H447.04M458.21,798.44V804.06M455.91,798.44H460.51M455.91,804.06H460.51" stroke="#555" stroke-width="0.9" fill="none"/><circle cx="348.77" cy="741.91" r="1.75" fill="#fff" stroke="#555" stroke-width="0.8"/><circle cx="362.52" cy="742.38" r="1.75" fill="#fff" stroke="#555" stroke-width="0.8"/><circle cx="404.05" cy="744.72" r="1.75" fill="#fff" stroke="#555" stroke-width="0.8"/><circle cx="416.68" cy="758.12" r="1.75" fill="#fff" stroke="#555" stroke-width="0.8"/><circle cx="430.71" cy="773.59" r="1.75" fill="#fff" stroke="#555" stroke-width="0.8"/><circle cx="444.74" cy="789.16" r="1.75" fill="#fff" stroke="#555" stroke-width="0.8"/><circle cx="458.21" cy="801.25" r="1.75" fill="#fff" stroke="#555" stroke-width="0.8"/><path d="M348.77,740.03V746.59M346.47,740.03H351.07M346.47,746.59H351.07M362.52,746.31V753.81M360.22,746.31H364.82M360.22,753.81H364.82M404.05,749.50V753.25M401.75,749.50H406.35M401.75,753.25H406.35M416.68,764.31V768.06M414.38,764.31H418.98M414.38,768.06H418.98" stroke="#000" stroke-width="0.9" fill="none"/><circle cx="348.77" cy="743.31" r="2.05" fill="#000"/><circle cx="362.52" cy="750.06" r="2.05" fill="#000"/><circle cx="404.05" cy="751.38" r="2.05" fill="#000"/><circle cx="416.68" cy="766.19" r="2.05" fill="#000"/><circle cx="430.71" cy="795.25" r="2.05" fill="#000"/><circle cx="444.74" cy="805.38" r="2.05" fill="#000"/><circle cx="458.21" cy="808.66" r="2.05" fill="#000"/></g>
</svg>
</body></html>
